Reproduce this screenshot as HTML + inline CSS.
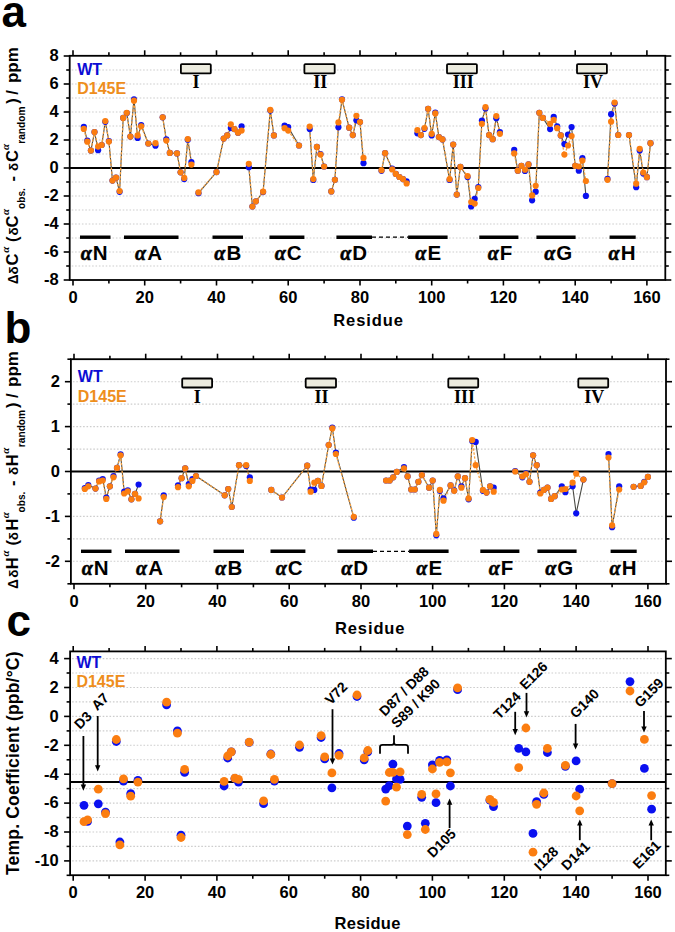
<!DOCTYPE html><html><head><meta charset="utf-8"><style>html,body{margin:0;padding:0;background:#fff;width:675px;height:932px;overflow:hidden}svg{display:block}</style></head><body>
<svg width="675" height="932" viewBox="0 0 675 932" font-family='"Liberation Sans", sans-serif'>
<rect width="675" height="932" fill="#fff"/>
<text x="1.6" y="27.0" font-size="44" font-weight="bold">a</text>
<text x="4.5" y="343.2" font-size="44" font-weight="bold">b</text>
<text x="6.5" y="635.6" font-size="44" font-weight="bold">c</text>
<line x1="71.7" y1="266.0" x2="663.3" y2="266.0" stroke="#cdcdcd" stroke-width="1.1" stroke-dasharray="1.6 1.8"/>
<line x1="71.7" y1="252.0" x2="663.3" y2="252.0" stroke="#cdcdcd" stroke-width="1.1" stroke-dasharray="1.6 1.8"/>
<line x1="71.7" y1="238.0" x2="663.3" y2="238.0" stroke="#cdcdcd" stroke-width="1.1" stroke-dasharray="1.6 1.8"/>
<line x1="71.7" y1="224.0" x2="663.3" y2="224.0" stroke="#cdcdcd" stroke-width="1.1" stroke-dasharray="1.6 1.8"/>
<line x1="71.7" y1="210.0" x2="663.3" y2="210.0" stroke="#cdcdcd" stroke-width="1.1" stroke-dasharray="1.6 1.8"/>
<line x1="71.7" y1="196.0" x2="663.3" y2="196.0" stroke="#cdcdcd" stroke-width="1.1" stroke-dasharray="1.6 1.8"/>
<line x1="71.7" y1="182.0" x2="663.3" y2="182.0" stroke="#cdcdcd" stroke-width="1.1" stroke-dasharray="1.6 1.8"/>
<line x1="71.7" y1="154.0" x2="663.3" y2="154.0" stroke="#cdcdcd" stroke-width="1.1" stroke-dasharray="1.6 1.8"/>
<line x1="71.7" y1="140.0" x2="663.3" y2="140.0" stroke="#cdcdcd" stroke-width="1.1" stroke-dasharray="1.6 1.8"/>
<line x1="71.7" y1="126.0" x2="663.3" y2="126.0" stroke="#cdcdcd" stroke-width="1.1" stroke-dasharray="1.6 1.8"/>
<line x1="71.7" y1="112.0" x2="663.3" y2="112.0" stroke="#cdcdcd" stroke-width="1.1" stroke-dasharray="1.6 1.8"/>
<line x1="71.7" y1="98.0" x2="663.3" y2="98.0" stroke="#cdcdcd" stroke-width="1.1" stroke-dasharray="1.6 1.8"/>
<line x1="71.7" y1="84.0" x2="663.3" y2="84.0" stroke="#cdcdcd" stroke-width="1.1" stroke-dasharray="1.6 1.8"/>
<line x1="71.7" y1="70.0" x2="663.3" y2="70.0" stroke="#cdcdcd" stroke-width="1.1" stroke-dasharray="1.6 1.8"/>
<rect x="69.7" y="55.8" width="595.6" height="224.2" fill="none" stroke="#000" stroke-width="1.8"/>
<line x1="63.7" y1="280.0" x2="69.7" y2="280.0" stroke="#000" stroke-width="1.6"/>
<line x1="665.3" y1="280.0" x2="671.3" y2="280.0" stroke="#000" stroke-width="1.6"/>
<line x1="63.7" y1="252.0" x2="69.7" y2="252.0" stroke="#000" stroke-width="1.6"/>
<line x1="665.3" y1="252.0" x2="671.3" y2="252.0" stroke="#000" stroke-width="1.6"/>
<line x1="63.7" y1="224.0" x2="69.7" y2="224.0" stroke="#000" stroke-width="1.6"/>
<line x1="665.3" y1="224.0" x2="671.3" y2="224.0" stroke="#000" stroke-width="1.6"/>
<line x1="63.7" y1="196.0" x2="69.7" y2="196.0" stroke="#000" stroke-width="1.6"/>
<line x1="665.3" y1="196.0" x2="671.3" y2="196.0" stroke="#000" stroke-width="1.6"/>
<line x1="63.7" y1="168.0" x2="69.7" y2="168.0" stroke="#000" stroke-width="1.6"/>
<line x1="665.3" y1="168.0" x2="671.3" y2="168.0" stroke="#000" stroke-width="1.6"/>
<line x1="63.7" y1="140.0" x2="69.7" y2="140.0" stroke="#000" stroke-width="1.6"/>
<line x1="665.3" y1="140.0" x2="671.3" y2="140.0" stroke="#000" stroke-width="1.6"/>
<line x1="63.7" y1="112.0" x2="69.7" y2="112.0" stroke="#000" stroke-width="1.6"/>
<line x1="665.3" y1="112.0" x2="671.3" y2="112.0" stroke="#000" stroke-width="1.6"/>
<line x1="63.7" y1="84.0" x2="69.7" y2="84.0" stroke="#000" stroke-width="1.6"/>
<line x1="665.3" y1="84.0" x2="671.3" y2="84.0" stroke="#000" stroke-width="1.6"/>
<line x1="63.7" y1="56.0" x2="69.7" y2="56.0" stroke="#000" stroke-width="1.6"/>
<line x1="665.3" y1="56.0" x2="671.3" y2="56.0" stroke="#000" stroke-width="1.6"/>
<line x1="66.2" y1="266.0" x2="69.7" y2="266.0" stroke="#000" stroke-width="1.6"/>
<line x1="665.3" y1="266.0" x2="668.8" y2="266.0" stroke="#000" stroke-width="1.6"/>
<line x1="66.2" y1="238.0" x2="69.7" y2="238.0" stroke="#000" stroke-width="1.6"/>
<line x1="665.3" y1="238.0" x2="668.8" y2="238.0" stroke="#000" stroke-width="1.6"/>
<line x1="66.2" y1="210.0" x2="69.7" y2="210.0" stroke="#000" stroke-width="1.6"/>
<line x1="665.3" y1="210.0" x2="668.8" y2="210.0" stroke="#000" stroke-width="1.6"/>
<line x1="66.2" y1="182.0" x2="69.7" y2="182.0" stroke="#000" stroke-width="1.6"/>
<line x1="665.3" y1="182.0" x2="668.8" y2="182.0" stroke="#000" stroke-width="1.6"/>
<line x1="66.2" y1="154.0" x2="69.7" y2="154.0" stroke="#000" stroke-width="1.6"/>
<line x1="665.3" y1="154.0" x2="668.8" y2="154.0" stroke="#000" stroke-width="1.6"/>
<line x1="66.2" y1="126.0" x2="69.7" y2="126.0" stroke="#000" stroke-width="1.6"/>
<line x1="665.3" y1="126.0" x2="668.8" y2="126.0" stroke="#000" stroke-width="1.6"/>
<line x1="66.2" y1="98.0" x2="69.7" y2="98.0" stroke="#000" stroke-width="1.6"/>
<line x1="665.3" y1="98.0" x2="668.8" y2="98.0" stroke="#000" stroke-width="1.6"/>
<line x1="66.2" y1="70.0" x2="69.7" y2="70.0" stroke="#000" stroke-width="1.6"/>
<line x1="665.3" y1="70.0" x2="668.8" y2="70.0" stroke="#000" stroke-width="1.6"/>
<line x1="73.0" y1="280.0" x2="73.0" y2="285.5" stroke="#000" stroke-width="1.6"/>
<line x1="73.0" y1="55.8" x2="73.0" y2="50.3" stroke="#000" stroke-width="1.6"/>
<line x1="108.9" y1="280.0" x2="108.9" y2="283.5" stroke="#000" stroke-width="1.6"/>
<line x1="108.9" y1="55.8" x2="108.9" y2="52.3" stroke="#000" stroke-width="1.6"/>
<line x1="144.7" y1="280.0" x2="144.7" y2="285.5" stroke="#000" stroke-width="1.6"/>
<line x1="144.7" y1="55.8" x2="144.7" y2="50.3" stroke="#000" stroke-width="1.6"/>
<line x1="180.6" y1="280.0" x2="180.6" y2="283.5" stroke="#000" stroke-width="1.6"/>
<line x1="180.6" y1="55.8" x2="180.6" y2="52.3" stroke="#000" stroke-width="1.6"/>
<line x1="216.5" y1="280.0" x2="216.5" y2="285.5" stroke="#000" stroke-width="1.6"/>
<line x1="216.5" y1="55.8" x2="216.5" y2="50.3" stroke="#000" stroke-width="1.6"/>
<line x1="252.4" y1="280.0" x2="252.4" y2="283.5" stroke="#000" stroke-width="1.6"/>
<line x1="252.4" y1="55.8" x2="252.4" y2="52.3" stroke="#000" stroke-width="1.6"/>
<line x1="288.2" y1="280.0" x2="288.2" y2="285.5" stroke="#000" stroke-width="1.6"/>
<line x1="288.2" y1="55.8" x2="288.2" y2="50.3" stroke="#000" stroke-width="1.6"/>
<line x1="324.1" y1="280.0" x2="324.1" y2="283.5" stroke="#000" stroke-width="1.6"/>
<line x1="324.1" y1="55.8" x2="324.1" y2="52.3" stroke="#000" stroke-width="1.6"/>
<line x1="360.0" y1="280.0" x2="360.0" y2="285.5" stroke="#000" stroke-width="1.6"/>
<line x1="360.0" y1="55.8" x2="360.0" y2="50.3" stroke="#000" stroke-width="1.6"/>
<line x1="395.8" y1="280.0" x2="395.8" y2="283.5" stroke="#000" stroke-width="1.6"/>
<line x1="395.8" y1="55.8" x2="395.8" y2="52.3" stroke="#000" stroke-width="1.6"/>
<line x1="431.7" y1="280.0" x2="431.7" y2="285.5" stroke="#000" stroke-width="1.6"/>
<line x1="431.7" y1="55.8" x2="431.7" y2="50.3" stroke="#000" stroke-width="1.6"/>
<line x1="467.6" y1="280.0" x2="467.6" y2="283.5" stroke="#000" stroke-width="1.6"/>
<line x1="467.6" y1="55.8" x2="467.6" y2="52.3" stroke="#000" stroke-width="1.6"/>
<line x1="503.4" y1="280.0" x2="503.4" y2="285.5" stroke="#000" stroke-width="1.6"/>
<line x1="503.4" y1="55.8" x2="503.4" y2="50.3" stroke="#000" stroke-width="1.6"/>
<line x1="539.3" y1="280.0" x2="539.3" y2="283.5" stroke="#000" stroke-width="1.6"/>
<line x1="539.3" y1="55.8" x2="539.3" y2="52.3" stroke="#000" stroke-width="1.6"/>
<line x1="575.2" y1="280.0" x2="575.2" y2="285.5" stroke="#000" stroke-width="1.6"/>
<line x1="575.2" y1="55.8" x2="575.2" y2="50.3" stroke="#000" stroke-width="1.6"/>
<line x1="611.1" y1="280.0" x2="611.1" y2="283.5" stroke="#000" stroke-width="1.6"/>
<line x1="611.1" y1="55.8" x2="611.1" y2="52.3" stroke="#000" stroke-width="1.6"/>
<line x1="646.9" y1="280.0" x2="646.9" y2="285.5" stroke="#000" stroke-width="1.6"/>
<line x1="646.9" y1="55.8" x2="646.9" y2="50.3" stroke="#000" stroke-width="1.6"/>
<text x="58.6" y="285.3" text-anchor="end" font-size="16.5" font-weight="bold">-8</text>
<text x="58.6" y="257.3" text-anchor="end" font-size="16.5" font-weight="bold">-6</text>
<text x="58.6" y="229.3" text-anchor="end" font-size="16.5" font-weight="bold">-4</text>
<text x="58.6" y="201.3" text-anchor="end" font-size="16.5" font-weight="bold">-2</text>
<text x="58.6" y="173.3" text-anchor="end" font-size="16.5" font-weight="bold">0</text>
<text x="58.6" y="145.3" text-anchor="end" font-size="16.5" font-weight="bold">2</text>
<text x="58.6" y="117.3" text-anchor="end" font-size="16.5" font-weight="bold">4</text>
<text x="58.6" y="89.3" text-anchor="end" font-size="16.5" font-weight="bold">6</text>
<text x="58.6" y="61.3" text-anchor="end" font-size="16.5" font-weight="bold">8</text>
<text x="73.0" y="303.4" text-anchor="middle" font-size="16.5" font-weight="bold">0</text>
<text x="144.7" y="303.4" text-anchor="middle" font-size="16.5" font-weight="bold">20</text>
<text x="216.5" y="303.4" text-anchor="middle" font-size="16.5" font-weight="bold">40</text>
<text x="288.2" y="303.4" text-anchor="middle" font-size="16.5" font-weight="bold">60</text>
<text x="360.0" y="303.4" text-anchor="middle" font-size="16.5" font-weight="bold">80</text>
<text x="431.7" y="303.4" text-anchor="middle" font-size="16.5" font-weight="bold">100</text>
<text x="503.4" y="303.4" text-anchor="middle" font-size="16.5" font-weight="bold">120</text>
<text x="575.2" y="303.4" text-anchor="middle" font-size="16.5" font-weight="bold">140</text>
<text x="646.9" y="303.4" text-anchor="middle" font-size="16.5" font-weight="bold">160</text>
<line x1="72.9" y1="561.3" x2="664.0" y2="561.3" stroke="#cdcdcd" stroke-width="1.1" stroke-dasharray="1.6 1.8"/>
<line x1="72.9" y1="538.9" x2="664.0" y2="538.9" stroke="#cdcdcd" stroke-width="1.1" stroke-dasharray="1.6 1.8"/>
<line x1="72.9" y1="516.4" x2="664.0" y2="516.4" stroke="#cdcdcd" stroke-width="1.1" stroke-dasharray="1.6 1.8"/>
<line x1="72.9" y1="493.9" x2="664.0" y2="493.9" stroke="#cdcdcd" stroke-width="1.1" stroke-dasharray="1.6 1.8"/>
<line x1="72.9" y1="449.1" x2="664.0" y2="449.1" stroke="#cdcdcd" stroke-width="1.1" stroke-dasharray="1.6 1.8"/>
<line x1="72.9" y1="426.6" x2="664.0" y2="426.6" stroke="#cdcdcd" stroke-width="1.1" stroke-dasharray="1.6 1.8"/>
<line x1="72.9" y1="404.1" x2="664.0" y2="404.1" stroke="#cdcdcd" stroke-width="1.1" stroke-dasharray="1.6 1.8"/>
<line x1="72.9" y1="381.7" x2="664.0" y2="381.7" stroke="#cdcdcd" stroke-width="1.1" stroke-dasharray="1.6 1.8"/>
<rect x="70.9" y="359.2" width="595.1" height="224.6" fill="none" stroke="#000" stroke-width="1.8"/>
<line x1="64.9" y1="561.3" x2="70.9" y2="561.3" stroke="#000" stroke-width="1.6"/>
<line x1="666.0" y1="561.3" x2="672.0" y2="561.3" stroke="#000" stroke-width="1.6"/>
<line x1="64.9" y1="516.4" x2="70.9" y2="516.4" stroke="#000" stroke-width="1.6"/>
<line x1="666.0" y1="516.4" x2="672.0" y2="516.4" stroke="#000" stroke-width="1.6"/>
<line x1="64.9" y1="471.5" x2="70.9" y2="471.5" stroke="#000" stroke-width="1.6"/>
<line x1="666.0" y1="471.5" x2="672.0" y2="471.5" stroke="#000" stroke-width="1.6"/>
<line x1="64.9" y1="426.6" x2="70.9" y2="426.6" stroke="#000" stroke-width="1.6"/>
<line x1="666.0" y1="426.6" x2="672.0" y2="426.6" stroke="#000" stroke-width="1.6"/>
<line x1="64.9" y1="381.7" x2="70.9" y2="381.7" stroke="#000" stroke-width="1.6"/>
<line x1="666.0" y1="381.7" x2="672.0" y2="381.7" stroke="#000" stroke-width="1.6"/>
<line x1="67.4" y1="583.8" x2="70.9" y2="583.8" stroke="#000" stroke-width="1.6"/>
<line x1="666.0" y1="583.8" x2="669.5" y2="583.8" stroke="#000" stroke-width="1.6"/>
<line x1="67.4" y1="538.9" x2="70.9" y2="538.9" stroke="#000" stroke-width="1.6"/>
<line x1="666.0" y1="538.9" x2="669.5" y2="538.9" stroke="#000" stroke-width="1.6"/>
<line x1="67.4" y1="493.9" x2="70.9" y2="493.9" stroke="#000" stroke-width="1.6"/>
<line x1="666.0" y1="493.9" x2="669.5" y2="493.9" stroke="#000" stroke-width="1.6"/>
<line x1="67.4" y1="449.1" x2="70.9" y2="449.1" stroke="#000" stroke-width="1.6"/>
<line x1="666.0" y1="449.1" x2="669.5" y2="449.1" stroke="#000" stroke-width="1.6"/>
<line x1="67.4" y1="404.1" x2="70.9" y2="404.1" stroke="#000" stroke-width="1.6"/>
<line x1="666.0" y1="404.1" x2="669.5" y2="404.1" stroke="#000" stroke-width="1.6"/>
<line x1="67.4" y1="359.2" x2="70.9" y2="359.2" stroke="#000" stroke-width="1.6"/>
<line x1="666.0" y1="359.2" x2="669.5" y2="359.2" stroke="#000" stroke-width="1.6"/>
<line x1="74.0" y1="583.8" x2="74.0" y2="589.3" stroke="#000" stroke-width="1.6"/>
<line x1="74.0" y1="359.2" x2="74.0" y2="353.7" stroke="#000" stroke-width="1.6"/>
<line x1="109.9" y1="583.8" x2="109.9" y2="587.3" stroke="#000" stroke-width="1.6"/>
<line x1="109.9" y1="359.2" x2="109.9" y2="355.7" stroke="#000" stroke-width="1.6"/>
<line x1="145.7" y1="583.8" x2="145.7" y2="589.3" stroke="#000" stroke-width="1.6"/>
<line x1="145.7" y1="359.2" x2="145.7" y2="353.7" stroke="#000" stroke-width="1.6"/>
<line x1="181.6" y1="583.8" x2="181.6" y2="587.3" stroke="#000" stroke-width="1.6"/>
<line x1="181.6" y1="359.2" x2="181.6" y2="355.7" stroke="#000" stroke-width="1.6"/>
<line x1="217.5" y1="583.8" x2="217.5" y2="589.3" stroke="#000" stroke-width="1.6"/>
<line x1="217.5" y1="359.2" x2="217.5" y2="353.7" stroke="#000" stroke-width="1.6"/>
<line x1="253.4" y1="583.8" x2="253.4" y2="587.3" stroke="#000" stroke-width="1.6"/>
<line x1="253.4" y1="359.2" x2="253.4" y2="355.7" stroke="#000" stroke-width="1.6"/>
<line x1="289.2" y1="583.8" x2="289.2" y2="589.3" stroke="#000" stroke-width="1.6"/>
<line x1="289.2" y1="359.2" x2="289.2" y2="353.7" stroke="#000" stroke-width="1.6"/>
<line x1="325.1" y1="583.8" x2="325.1" y2="587.3" stroke="#000" stroke-width="1.6"/>
<line x1="325.1" y1="359.2" x2="325.1" y2="355.7" stroke="#000" stroke-width="1.6"/>
<line x1="361.0" y1="583.8" x2="361.0" y2="589.3" stroke="#000" stroke-width="1.6"/>
<line x1="361.0" y1="359.2" x2="361.0" y2="353.7" stroke="#000" stroke-width="1.6"/>
<line x1="396.8" y1="583.8" x2="396.8" y2="587.3" stroke="#000" stroke-width="1.6"/>
<line x1="396.8" y1="359.2" x2="396.8" y2="355.7" stroke="#000" stroke-width="1.6"/>
<line x1="432.7" y1="583.8" x2="432.7" y2="589.3" stroke="#000" stroke-width="1.6"/>
<line x1="432.7" y1="359.2" x2="432.7" y2="353.7" stroke="#000" stroke-width="1.6"/>
<line x1="468.6" y1="583.8" x2="468.6" y2="587.3" stroke="#000" stroke-width="1.6"/>
<line x1="468.6" y1="359.2" x2="468.6" y2="355.7" stroke="#000" stroke-width="1.6"/>
<line x1="504.4" y1="583.8" x2="504.4" y2="589.3" stroke="#000" stroke-width="1.6"/>
<line x1="504.4" y1="359.2" x2="504.4" y2="353.7" stroke="#000" stroke-width="1.6"/>
<line x1="540.3" y1="583.8" x2="540.3" y2="587.3" stroke="#000" stroke-width="1.6"/>
<line x1="540.3" y1="359.2" x2="540.3" y2="355.7" stroke="#000" stroke-width="1.6"/>
<line x1="576.2" y1="583.8" x2="576.2" y2="589.3" stroke="#000" stroke-width="1.6"/>
<line x1="576.2" y1="359.2" x2="576.2" y2="353.7" stroke="#000" stroke-width="1.6"/>
<line x1="612.1" y1="583.8" x2="612.1" y2="587.3" stroke="#000" stroke-width="1.6"/>
<line x1="612.1" y1="359.2" x2="612.1" y2="355.7" stroke="#000" stroke-width="1.6"/>
<line x1="647.9" y1="583.8" x2="647.9" y2="589.3" stroke="#000" stroke-width="1.6"/>
<line x1="647.9" y1="359.2" x2="647.9" y2="353.7" stroke="#000" stroke-width="1.6"/>
<text x="60.0" y="566.6" text-anchor="end" font-size="16.5" font-weight="bold">-2</text>
<text x="60.0" y="521.7" text-anchor="end" font-size="16.5" font-weight="bold">-1</text>
<text x="60.0" y="476.8" text-anchor="end" font-size="16.5" font-weight="bold">0</text>
<text x="60.0" y="431.9" text-anchor="end" font-size="16.5" font-weight="bold">1</text>
<text x="60.0" y="387.0" text-anchor="end" font-size="16.5" font-weight="bold">2</text>
<text x="74.0" y="607.4" text-anchor="middle" font-size="16.5" font-weight="bold">0</text>
<text x="145.7" y="607.4" text-anchor="middle" font-size="16.5" font-weight="bold">20</text>
<text x="217.5" y="607.4" text-anchor="middle" font-size="16.5" font-weight="bold">40</text>
<text x="289.2" y="607.4" text-anchor="middle" font-size="16.5" font-weight="bold">60</text>
<text x="361.0" y="607.4" text-anchor="middle" font-size="16.5" font-weight="bold">80</text>
<text x="432.7" y="607.4" text-anchor="middle" font-size="16.5" font-weight="bold">100</text>
<text x="504.4" y="607.4" text-anchor="middle" font-size="16.5" font-weight="bold">120</text>
<text x="576.2" y="607.4" text-anchor="middle" font-size="16.5" font-weight="bold">140</text>
<text x="647.9" y="607.4" text-anchor="middle" font-size="16.5" font-weight="bold">160</text>
<line x1="72.1" y1="860.9" x2="663.8" y2="860.9" stroke="#cdcdcd" stroke-width="1.1" stroke-dasharray="1.6 1.8"/>
<line x1="72.1" y1="846.4" x2="663.8" y2="846.4" stroke="#cdcdcd" stroke-width="1.1" stroke-dasharray="1.6 1.8"/>
<line x1="72.1" y1="832.0" x2="663.8" y2="832.0" stroke="#cdcdcd" stroke-width="1.1" stroke-dasharray="1.6 1.8"/>
<line x1="72.1" y1="817.5" x2="663.8" y2="817.5" stroke="#cdcdcd" stroke-width="1.1" stroke-dasharray="1.6 1.8"/>
<line x1="72.1" y1="803.1" x2="663.8" y2="803.1" stroke="#cdcdcd" stroke-width="1.1" stroke-dasharray="1.6 1.8"/>
<line x1="72.1" y1="788.6" x2="663.8" y2="788.6" stroke="#cdcdcd" stroke-width="1.1" stroke-dasharray="1.6 1.8"/>
<line x1="72.1" y1="774.2" x2="663.8" y2="774.2" stroke="#cdcdcd" stroke-width="1.1" stroke-dasharray="1.6 1.8"/>
<line x1="72.1" y1="759.8" x2="663.8" y2="759.8" stroke="#cdcdcd" stroke-width="1.1" stroke-dasharray="1.6 1.8"/>
<line x1="72.1" y1="745.3" x2="663.8" y2="745.3" stroke="#cdcdcd" stroke-width="1.1" stroke-dasharray="1.6 1.8"/>
<line x1="72.1" y1="730.9" x2="663.8" y2="730.9" stroke="#cdcdcd" stroke-width="1.1" stroke-dasharray="1.6 1.8"/>
<line x1="72.1" y1="716.4" x2="663.8" y2="716.4" stroke="#cdcdcd" stroke-width="1.1" stroke-dasharray="1.6 1.8"/>
<line x1="72.1" y1="701.9" x2="663.8" y2="701.9" stroke="#cdcdcd" stroke-width="1.1" stroke-dasharray="1.6 1.8"/>
<line x1="72.1" y1="687.5" x2="663.8" y2="687.5" stroke="#cdcdcd" stroke-width="1.1" stroke-dasharray="1.6 1.8"/>
<line x1="72.1" y1="673.0" x2="663.8" y2="673.0" stroke="#cdcdcd" stroke-width="1.1" stroke-dasharray="1.6 1.8"/>
<line x1="72.1" y1="658.6" x2="663.8" y2="658.6" stroke="#cdcdcd" stroke-width="1.1" stroke-dasharray="1.6 1.8"/>
<rect x="70.1" y="651.4" width="595.7" height="223.8" fill="none" stroke="#000" stroke-width="1.8"/>
<line x1="64.1" y1="860.9" x2="70.1" y2="860.9" stroke="#000" stroke-width="1.6"/>
<line x1="665.8" y1="860.9" x2="671.8" y2="860.9" stroke="#000" stroke-width="1.6"/>
<line x1="64.1" y1="832.0" x2="70.1" y2="832.0" stroke="#000" stroke-width="1.6"/>
<line x1="665.8" y1="832.0" x2="671.8" y2="832.0" stroke="#000" stroke-width="1.6"/>
<line x1="64.1" y1="803.1" x2="70.1" y2="803.1" stroke="#000" stroke-width="1.6"/>
<line x1="665.8" y1="803.1" x2="671.8" y2="803.1" stroke="#000" stroke-width="1.6"/>
<line x1="64.1" y1="774.2" x2="70.1" y2="774.2" stroke="#000" stroke-width="1.6"/>
<line x1="665.8" y1="774.2" x2="671.8" y2="774.2" stroke="#000" stroke-width="1.6"/>
<line x1="64.1" y1="745.3" x2="70.1" y2="745.3" stroke="#000" stroke-width="1.6"/>
<line x1="665.8" y1="745.3" x2="671.8" y2="745.3" stroke="#000" stroke-width="1.6"/>
<line x1="64.1" y1="716.4" x2="70.1" y2="716.4" stroke="#000" stroke-width="1.6"/>
<line x1="665.8" y1="716.4" x2="671.8" y2="716.4" stroke="#000" stroke-width="1.6"/>
<line x1="64.1" y1="687.5" x2="70.1" y2="687.5" stroke="#000" stroke-width="1.6"/>
<line x1="665.8" y1="687.5" x2="671.8" y2="687.5" stroke="#000" stroke-width="1.6"/>
<line x1="64.1" y1="658.6" x2="70.1" y2="658.6" stroke="#000" stroke-width="1.6"/>
<line x1="665.8" y1="658.6" x2="671.8" y2="658.6" stroke="#000" stroke-width="1.6"/>
<line x1="66.6" y1="875.3" x2="70.1" y2="875.3" stroke="#000" stroke-width="1.6"/>
<line x1="665.8" y1="875.3" x2="669.3" y2="875.3" stroke="#000" stroke-width="1.6"/>
<line x1="66.6" y1="846.4" x2="70.1" y2="846.4" stroke="#000" stroke-width="1.6"/>
<line x1="665.8" y1="846.4" x2="669.3" y2="846.4" stroke="#000" stroke-width="1.6"/>
<line x1="66.6" y1="817.5" x2="70.1" y2="817.5" stroke="#000" stroke-width="1.6"/>
<line x1="665.8" y1="817.5" x2="669.3" y2="817.5" stroke="#000" stroke-width="1.6"/>
<line x1="66.6" y1="788.6" x2="70.1" y2="788.6" stroke="#000" stroke-width="1.6"/>
<line x1="665.8" y1="788.6" x2="669.3" y2="788.6" stroke="#000" stroke-width="1.6"/>
<line x1="66.6" y1="759.8" x2="70.1" y2="759.8" stroke="#000" stroke-width="1.6"/>
<line x1="665.8" y1="759.8" x2="669.3" y2="759.8" stroke="#000" stroke-width="1.6"/>
<line x1="66.6" y1="730.9" x2="70.1" y2="730.9" stroke="#000" stroke-width="1.6"/>
<line x1="665.8" y1="730.9" x2="669.3" y2="730.9" stroke="#000" stroke-width="1.6"/>
<line x1="66.6" y1="701.9" x2="70.1" y2="701.9" stroke="#000" stroke-width="1.6"/>
<line x1="665.8" y1="701.9" x2="669.3" y2="701.9" stroke="#000" stroke-width="1.6"/>
<line x1="66.6" y1="673.0" x2="70.1" y2="673.0" stroke="#000" stroke-width="1.6"/>
<line x1="665.8" y1="673.0" x2="669.3" y2="673.0" stroke="#000" stroke-width="1.6"/>
<line x1="73.2" y1="875.2" x2="73.2" y2="880.7" stroke="#000" stroke-width="1.6"/>
<line x1="73.2" y1="651.4" x2="73.2" y2="645.9" stroke="#000" stroke-width="1.6"/>
<line x1="109.1" y1="875.2" x2="109.1" y2="878.7" stroke="#000" stroke-width="1.6"/>
<line x1="109.1" y1="651.4" x2="109.1" y2="647.9" stroke="#000" stroke-width="1.6"/>
<line x1="145.1" y1="875.2" x2="145.1" y2="880.7" stroke="#000" stroke-width="1.6"/>
<line x1="145.1" y1="651.4" x2="145.1" y2="645.9" stroke="#000" stroke-width="1.6"/>
<line x1="181.0" y1="875.2" x2="181.0" y2="878.7" stroke="#000" stroke-width="1.6"/>
<line x1="181.0" y1="651.4" x2="181.0" y2="647.9" stroke="#000" stroke-width="1.6"/>
<line x1="216.9" y1="875.2" x2="216.9" y2="880.7" stroke="#000" stroke-width="1.6"/>
<line x1="216.9" y1="651.4" x2="216.9" y2="645.9" stroke="#000" stroke-width="1.6"/>
<line x1="252.8" y1="875.2" x2="252.8" y2="878.7" stroke="#000" stroke-width="1.6"/>
<line x1="252.8" y1="651.4" x2="252.8" y2="647.9" stroke="#000" stroke-width="1.6"/>
<line x1="288.8" y1="875.2" x2="288.8" y2="880.7" stroke="#000" stroke-width="1.6"/>
<line x1="288.8" y1="651.4" x2="288.8" y2="645.9" stroke="#000" stroke-width="1.6"/>
<line x1="324.7" y1="875.2" x2="324.7" y2="878.7" stroke="#000" stroke-width="1.6"/>
<line x1="324.7" y1="651.4" x2="324.7" y2="647.9" stroke="#000" stroke-width="1.6"/>
<line x1="360.6" y1="875.2" x2="360.6" y2="880.7" stroke="#000" stroke-width="1.6"/>
<line x1="360.6" y1="651.4" x2="360.6" y2="645.9" stroke="#000" stroke-width="1.6"/>
<line x1="396.5" y1="875.2" x2="396.5" y2="878.7" stroke="#000" stroke-width="1.6"/>
<line x1="396.5" y1="651.4" x2="396.5" y2="647.9" stroke="#000" stroke-width="1.6"/>
<line x1="432.4" y1="875.2" x2="432.4" y2="880.7" stroke="#000" stroke-width="1.6"/>
<line x1="432.4" y1="651.4" x2="432.4" y2="645.9" stroke="#000" stroke-width="1.6"/>
<line x1="468.4" y1="875.2" x2="468.4" y2="878.7" stroke="#000" stroke-width="1.6"/>
<line x1="468.4" y1="651.4" x2="468.4" y2="647.9" stroke="#000" stroke-width="1.6"/>
<line x1="504.3" y1="875.2" x2="504.3" y2="880.7" stroke="#000" stroke-width="1.6"/>
<line x1="504.3" y1="651.4" x2="504.3" y2="645.9" stroke="#000" stroke-width="1.6"/>
<line x1="540.2" y1="875.2" x2="540.2" y2="878.7" stroke="#000" stroke-width="1.6"/>
<line x1="540.2" y1="651.4" x2="540.2" y2="647.9" stroke="#000" stroke-width="1.6"/>
<line x1="576.1" y1="875.2" x2="576.1" y2="880.7" stroke="#000" stroke-width="1.6"/>
<line x1="576.1" y1="651.4" x2="576.1" y2="645.9" stroke="#000" stroke-width="1.6"/>
<line x1="612.1" y1="875.2" x2="612.1" y2="878.7" stroke="#000" stroke-width="1.6"/>
<line x1="612.1" y1="651.4" x2="612.1" y2="647.9" stroke="#000" stroke-width="1.6"/>
<line x1="648.0" y1="875.2" x2="648.0" y2="880.7" stroke="#000" stroke-width="1.6"/>
<line x1="648.0" y1="651.4" x2="648.0" y2="645.9" stroke="#000" stroke-width="1.6"/>
<text x="58.6" y="866.2" text-anchor="end" font-size="16.5" font-weight="bold">-10</text>
<text x="58.6" y="837.3" text-anchor="end" font-size="16.5" font-weight="bold">-8</text>
<text x="58.6" y="808.4" text-anchor="end" font-size="16.5" font-weight="bold">-6</text>
<text x="58.6" y="779.5" text-anchor="end" font-size="16.5" font-weight="bold">-4</text>
<text x="58.6" y="750.6" text-anchor="end" font-size="16.5" font-weight="bold">-2</text>
<text x="58.6" y="721.7" text-anchor="end" font-size="16.5" font-weight="bold">0</text>
<text x="58.6" y="692.8" text-anchor="end" font-size="16.5" font-weight="bold">2</text>
<text x="58.6" y="663.9" text-anchor="end" font-size="16.5" font-weight="bold">4</text>
<text x="73.2" y="898.4" text-anchor="middle" font-size="16.5" font-weight="bold">0</text>
<text x="145.1" y="898.4" text-anchor="middle" font-size="16.5" font-weight="bold">20</text>
<text x="216.9" y="898.4" text-anchor="middle" font-size="16.5" font-weight="bold">40</text>
<text x="288.8" y="898.4" text-anchor="middle" font-size="16.5" font-weight="bold">60</text>
<text x="360.6" y="898.4" text-anchor="middle" font-size="16.5" font-weight="bold">80</text>
<text x="432.4" y="898.4" text-anchor="middle" font-size="16.5" font-weight="bold">100</text>
<text x="504.3" y="898.4" text-anchor="middle" font-size="16.5" font-weight="bold">120</text>
<text x="576.1" y="898.4" text-anchor="middle" font-size="16.5" font-weight="bold">140</text>
<text x="648.0" y="898.4" text-anchor="middle" font-size="16.5" font-weight="bold">160</text>
<line x1="69.7" y1="168.0" x2="665.3" y2="168.0" stroke="#000" stroke-width="2"/>
<line x1="70.9" y1="471.5" x2="666.0" y2="471.5" stroke="#000" stroke-width="2"/>
<line x1="70.1" y1="782.1" x2="665.8" y2="782.1" stroke="#000" stroke-width="2"/>
<line x1="80.0" y1="237.2" x2="110.5" y2="237.2" stroke="#000" stroke-width="3.4"/>
<text x="94.2" y="260.2" text-anchor="middle" font-size="20.5" font-weight="bold"><tspan font-family='"Liberation Serif", serif' font-style="italic" font-size="20" stroke="#000" stroke-width="0.5">α</tspan><tspan dx="1">N</tspan></text>
<line x1="124.0" y1="237.2" x2="178.5" y2="237.2" stroke="#000" stroke-width="3.4"/>
<text x="148.5" y="260.2" text-anchor="middle" font-size="20.5" font-weight="bold"><tspan font-family='"Liberation Serif", serif' font-style="italic" font-size="20" stroke="#000" stroke-width="0.5">α</tspan><tspan dx="1">A</tspan></text>
<line x1="212.5" y1="237.2" x2="243.0" y2="237.2" stroke="#000" stroke-width="3.4"/>
<text x="227.8" y="260.2" text-anchor="middle" font-size="20.5" font-weight="bold"><tspan font-family='"Liberation Serif", serif' font-style="italic" font-size="20" stroke="#000" stroke-width="0.5">α</tspan><tspan dx="1">B</tspan></text>
<line x1="269.5" y1="237.2" x2="304.4" y2="237.2" stroke="#000" stroke-width="3.4"/>
<text x="288.2" y="260.2" text-anchor="middle" font-size="20.5" font-weight="bold"><tspan font-family='"Liberation Serif", serif' font-style="italic" font-size="20" stroke="#000" stroke-width="0.5">α</tspan><tspan dx="1">C</tspan></text>
<line x1="336.4" y1="237.2" x2="372.0" y2="237.2" stroke="#000" stroke-width="3.4"/>
<text x="353.6" y="260.2" text-anchor="middle" font-size="20.5" font-weight="bold"><tspan font-family='"Liberation Serif", serif' font-style="italic" font-size="20" stroke="#000" stroke-width="0.5">α</tspan><tspan dx="1">D</tspan></text>
<line x1="408.1" y1="237.2" x2="447.6" y2="237.2" stroke="#000" stroke-width="3.4"/>
<text x="428.2" y="260.2" text-anchor="middle" font-size="20.5" font-weight="bold"><tspan font-family='"Liberation Serif", serif' font-style="italic" font-size="20" stroke="#000" stroke-width="0.5">α</tspan><tspan dx="1">E</tspan></text>
<line x1="479.3" y1="237.2" x2="518.4" y2="237.2" stroke="#000" stroke-width="3.4"/>
<text x="500.0" y="260.2" text-anchor="middle" font-size="20.5" font-weight="bold"><tspan font-family='"Liberation Serif", serif' font-style="italic" font-size="20" stroke="#000" stroke-width="0.5">α</tspan><tspan dx="1">F</tspan></text>
<line x1="536.4" y1="237.2" x2="575.6" y2="237.2" stroke="#000" stroke-width="3.4"/>
<text x="558.2" y="260.2" text-anchor="middle" font-size="20.5" font-weight="bold"><tspan font-family='"Liberation Serif", serif' font-style="italic" font-size="20" stroke="#000" stroke-width="0.5">α</tspan><tspan dx="1">G</tspan></text>
<line x1="609.6" y1="237.2" x2="635.7" y2="237.2" stroke="#000" stroke-width="3.4"/>
<text x="622.0" y="260.2" text-anchor="middle" font-size="20.5" font-weight="bold"><tspan font-family='"Liberation Serif", serif' font-style="italic" font-size="20" stroke="#000" stroke-width="0.5">α</tspan><tspan dx="1">H</tspan></text>
<line x1="372.0" y1="237.2" x2="408.1" y2="237.2" stroke="#000" stroke-width="1.3" stroke-dasharray="4 3"/>
<line x1="81.0" y1="551.3" x2="111.5" y2="551.3" stroke="#000" stroke-width="3.4"/>
<text x="95.2" y="574.5" text-anchor="middle" font-size="20.5" font-weight="bold"><tspan font-family='"Liberation Serif", serif' font-style="italic" font-size="20" stroke="#000" stroke-width="0.5">α</tspan><tspan dx="1">N</tspan></text>
<line x1="125.0" y1="551.3" x2="179.5" y2="551.3" stroke="#000" stroke-width="3.4"/>
<text x="149.5" y="574.5" text-anchor="middle" font-size="20.5" font-weight="bold"><tspan font-family='"Liberation Serif", serif' font-style="italic" font-size="20" stroke="#000" stroke-width="0.5">α</tspan><tspan dx="1">A</tspan></text>
<line x1="213.5" y1="551.3" x2="244.0" y2="551.3" stroke="#000" stroke-width="3.4"/>
<text x="228.8" y="574.5" text-anchor="middle" font-size="20.5" font-weight="bold"><tspan font-family='"Liberation Serif", serif' font-style="italic" font-size="20" stroke="#000" stroke-width="0.5">α</tspan><tspan dx="1">B</tspan></text>
<line x1="270.5" y1="551.3" x2="305.4" y2="551.3" stroke="#000" stroke-width="3.4"/>
<text x="289.2" y="574.5" text-anchor="middle" font-size="20.5" font-weight="bold"><tspan font-family='"Liberation Serif", serif' font-style="italic" font-size="20" stroke="#000" stroke-width="0.5">α</tspan><tspan dx="1">C</tspan></text>
<line x1="337.4" y1="551.3" x2="373.0" y2="551.3" stroke="#000" stroke-width="3.4"/>
<text x="354.6" y="574.5" text-anchor="middle" font-size="20.5" font-weight="bold"><tspan font-family='"Liberation Serif", serif' font-style="italic" font-size="20" stroke="#000" stroke-width="0.5">α</tspan><tspan dx="1">D</tspan></text>
<line x1="409.1" y1="551.3" x2="448.6" y2="551.3" stroke="#000" stroke-width="3.4"/>
<text x="429.2" y="574.5" text-anchor="middle" font-size="20.5" font-weight="bold"><tspan font-family='"Liberation Serif", serif' font-style="italic" font-size="20" stroke="#000" stroke-width="0.5">α</tspan><tspan dx="1">E</tspan></text>
<line x1="480.3" y1="551.3" x2="519.4" y2="551.3" stroke="#000" stroke-width="3.4"/>
<text x="501.0" y="574.5" text-anchor="middle" font-size="20.5" font-weight="bold"><tspan font-family='"Liberation Serif", serif' font-style="italic" font-size="20" stroke="#000" stroke-width="0.5">α</tspan><tspan dx="1">F</tspan></text>
<line x1="537.4" y1="551.3" x2="576.6" y2="551.3" stroke="#000" stroke-width="3.4"/>
<text x="559.2" y="574.5" text-anchor="middle" font-size="20.5" font-weight="bold"><tspan font-family='"Liberation Serif", serif' font-style="italic" font-size="20" stroke="#000" stroke-width="0.5">α</tspan><tspan dx="1">G</tspan></text>
<line x1="610.6" y1="551.3" x2="636.7" y2="551.3" stroke="#000" stroke-width="3.4"/>
<text x="623.0" y="574.5" text-anchor="middle" font-size="20.5" font-weight="bold"><tspan font-family='"Liberation Serif", serif' font-style="italic" font-size="20" stroke="#000" stroke-width="0.5">α</tspan><tspan dx="1">H</tspan></text>
<line x1="373.0" y1="551.3" x2="409.1" y2="551.3" stroke="#000" stroke-width="1.3" stroke-dasharray="4 3"/>
<rect x="180.9" y="64.1" width="29.9" height="9.3" rx="1" fill="#ecebdf" stroke="#000" stroke-width="1.8"/>
<text x="196.0" y="88.4" text-anchor="middle" font-size="18" font-weight="bold" font-family='"Liberation Serif", serif'>I</text>
<rect x="304.4" y="64.1" width="30.3" height="9.3" rx="1" fill="#ecebdf" stroke="#000" stroke-width="1.8"/>
<text x="320.2" y="88.4" text-anchor="middle" font-size="18" font-weight="bold" font-family='"Liberation Serif", serif'>II</text>
<rect x="447.0" y="64.1" width="29.9" height="9.3" rx="1" fill="#ecebdf" stroke="#000" stroke-width="1.8"/>
<text x="463.3" y="88.4" text-anchor="middle" font-size="18" font-weight="bold" font-family='"Liberation Serif", serif'>III</text>
<rect x="577.0" y="64.1" width="29.9" height="9.3" rx="1" fill="#ecebdf" stroke="#000" stroke-width="1.8"/>
<text x="593.0" y="88.4" text-anchor="middle" font-size="18" font-weight="bold" font-family='"Liberation Serif", serif'>IV</text>
<rect x="182.2" y="378.5" width="29.9" height="9.0" rx="1" fill="#ecebdf" stroke="#000" stroke-width="1.8"/>
<text x="197.3" y="403.1" text-anchor="middle" font-size="18" font-weight="bold" font-family='"Liberation Serif", serif'>I</text>
<rect x="305.7" y="378.5" width="30.3" height="9.0" rx="1" fill="#ecebdf" stroke="#000" stroke-width="1.8"/>
<text x="321.5" y="403.1" text-anchor="middle" font-size="18" font-weight="bold" font-family='"Liberation Serif", serif'>II</text>
<rect x="448.3" y="378.5" width="29.9" height="9.0" rx="1" fill="#ecebdf" stroke="#000" stroke-width="1.8"/>
<text x="464.6" y="403.1" text-anchor="middle" font-size="18" font-weight="bold" font-family='"Liberation Serif", serif'>III</text>
<rect x="578.3" y="378.5" width="29.9" height="9.0" rx="1" fill="#ecebdf" stroke="#000" stroke-width="1.8"/>
<text x="594.3" y="403.1" text-anchor="middle" font-size="18" font-weight="bold" font-family='"Liberation Serif", serif'>IV</text>
<polyline points="83.8,126.8 87.3,140.7 90.9,150.6 94.5,132.0 98.1,150.2 101.7,145.0 105.3,121.8 108.9,141.1 112.5,180.6 116.0,177.7 119.6,191.8 123.2,117.9 126.8,113.1 130.4,136.6 134.0,99.4 137.6,137.9 141.2,125.0 148.3,143.5 155.5,145.7" fill="none" stroke="#4a4a44" stroke-width="1.1"/>
<polyline points="162.7,117.3 166.3,139.3 169.8,152.9 177.0,153.4 180.6,172.3 184.2,179.1 187.8,139.7 191.4,162.0" fill="none" stroke="#4a4a44" stroke-width="1.1"/>
<polyline points="198.5,193.2 216.5,172.1 223.7,138.6 227.2,135.4 230.8,128.1 234.4,129.1 238.0,132.7 241.6,126.3" fill="none" stroke="#4a4a44" stroke-width="1.1"/>
<polyline points="248.8,167.2 252.4,206.5 255.9,201.3 263.1,192.1 270.3,110.6 273.9,135.4" fill="none" stroke="#4a4a44" stroke-width="1.1"/>
<polyline points="284.6,125.7 288.2,127.1 299.0,145.5" fill="none" stroke="#4a4a44" stroke-width="1.1"/>
<polyline points="309.7,129.1 313.3,179.9 316.9,146.9 320.5,154.0 324.1,166.5" fill="none" stroke="#4a4a44" stroke-width="1.1"/>
<polyline points="331.3,191.4 334.9,179.8 338.4,127.3 342.0,99.4 349.2,127.7 352.8,135.1 356.4,120.3 360.0,122.1 363.5,163.2" fill="none" stroke="#4a4a44" stroke-width="1.1"/>
<polyline points="381.5,170.8 385.1,153.2 392.2,168.7 395.8,173.9 399.4,177.0 403.0,179.1 406.6,181.3" fill="none" stroke="#4a4a44" stroke-width="1.1"/>
<polyline points="417.4,133.3 420.9,135.1 424.5,128.8 428.1,108.8 431.7,135.4 435.3,112.7 438.9,137.1 442.5,139.4 449.6,180.0 453.2,144.6 456.8,194.6 460.4,166.9 467.6,177.1 471.2,206.5 474.7,198.8 478.3,187.0 481.9,120.5 485.5,108.5 489.1,135.1 492.7,139.2 496.3,118.2 499.9,132.2" fill="none" stroke="#4a4a44" stroke-width="1.1"/>
<polyline points="514.2,149.9 517.8,170.7 521.4,165.8 525.0,170.9 528.5,164.4 532.1,200.3 535.7,191.7 539.3,112.8 542.9,117.9 550.1,129.1 553.7,116.9 557.2,126.3 560.8,135.4 564.4,144.1 568.0,134.5 571.6,127.0 575.2,165.8 578.8,170.7 582.4,158.2 585.9,195.9" fill="none" stroke="#4a4a44" stroke-width="1.1"/>
<polyline points="607.5,178.9 611.1,114.2 614.6,103.6 618.2,135.0" fill="none" stroke="#4a4a44" stroke-width="1.1"/>
<polyline points="629.0,135.0 636.2,187.2 639.7,150.5 643.3,173.6 646.9,177.2 650.5,143.2" fill="none" stroke="#4a4a44" stroke-width="1.1"/>
<polyline points="83.8,128.9 87.3,141.7 90.9,150.6 94.5,132.0 98.1,146.6 101.7,145.0 105.3,121.0 108.9,141.5 112.5,180.6 116.0,177.7 119.6,191.0 123.2,117.9 126.8,112.8 130.4,136.6 134.0,100.7 137.6,135.4 141.2,126.3 148.3,143.5 155.5,143.2" fill="none" stroke="#f5a040" stroke-width="1.3" stroke-dasharray="2.4 1.6"/>
<polyline points="162.7,117.3 166.3,140.6 169.8,152.9 177.0,153.4 180.6,172.3 184.2,177.9 187.8,139.0 191.4,164.6" fill="none" stroke="#f5a040" stroke-width="1.3" stroke-dasharray="2.4 1.6"/>
<polyline points="198.5,192.4 216.5,172.1 223.7,138.6 227.2,135.4 230.8,124.3 234.4,129.1 238.0,132.7 241.6,130.6" fill="none" stroke="#f5a040" stroke-width="1.3" stroke-dasharray="2.4 1.6"/>
<polyline points="248.8,163.8 252.4,206.5 255.9,201.3 263.1,191.7 270.3,109.9 273.9,135.4" fill="none" stroke="#f5a040" stroke-width="1.3" stroke-dasharray="2.4 1.6"/>
<polyline points="284.6,128.2 288.2,130.6 299.0,145.5" fill="none" stroke="#f5a040" stroke-width="1.3" stroke-dasharray="2.4 1.6"/>
<polyline points="309.7,126.6 313.3,179.1 316.9,146.9 320.5,154.6 324.1,166.5" fill="none" stroke="#f5a040" stroke-width="1.3" stroke-dasharray="2.4 1.6"/>
<polyline points="331.3,191.4 334.9,179.8 338.4,122.4 342.0,99.8 349.2,127.7 352.8,135.1 356.4,115.8 360.0,122.1 363.5,157.9" fill="none" stroke="#f5a040" stroke-width="1.3" stroke-dasharray="2.4 1.6"/>
<polyline points="381.5,170.2 385.1,153.2 392.2,169.4 395.8,173.9 399.4,177.0 403.0,179.1 406.6,183.4" fill="none" stroke="#f5a040" stroke-width="1.3" stroke-dasharray="2.4 1.6"/>
<polyline points="417.4,130.2 420.9,135.1 424.5,128.0 428.1,108.8 431.7,133.8 435.3,113.4 438.9,137.1 442.5,139.4 449.6,179.2 453.2,144.6 456.8,194.6 460.4,166.9 467.6,176.1 471.2,202.0 474.7,203.6 478.3,188.0 481.9,123.8 485.5,107.2 489.1,135.1 492.7,139.2 496.3,116.1 499.9,133.8" fill="none" stroke="#f5a040" stroke-width="1.3" stroke-dasharray="2.4 1.6"/>
<polyline points="514.2,153.4 517.8,170.7 521.4,165.8 525.0,169.7 528.5,164.4 532.1,195.4 535.7,185.8 539.3,112.8 542.9,117.9 550.1,123.8 553.7,119.8 557.2,128.2 560.8,135.4 564.4,154.6 568.0,145.5 571.6,136.1 575.2,165.8 578.8,166.5 582.4,160.6 585.9,181.0" fill="none" stroke="#f5a040" stroke-width="1.3" stroke-dasharray="2.4 1.6"/>
<polyline points="607.5,179.8 611.1,121.7 614.6,102.5 618.2,135.0" fill="none" stroke="#f5a040" stroke-width="1.3" stroke-dasharray="2.4 1.6"/>
<polyline points="629.0,135.0 636.2,183.7 639.7,148.8 643.3,172.5 646.9,177.2 650.5,143.2" fill="none" stroke="#f5a040" stroke-width="1.3" stroke-dasharray="2.4 1.6"/>
<circle cx="83.8" cy="126.8" r="3.1" fill="#0a10f0"/>
<circle cx="87.3" cy="140.7" r="3.1" fill="#0a10f0"/>
<circle cx="90.9" cy="150.6" r="3.1" fill="#0a10f0"/>
<circle cx="94.5" cy="132.0" r="3.1" fill="#0a10f0"/>
<circle cx="98.1" cy="150.2" r="3.1" fill="#0a10f0"/>
<circle cx="101.7" cy="145.0" r="3.1" fill="#0a10f0"/>
<circle cx="105.3" cy="121.8" r="3.1" fill="#0a10f0"/>
<circle cx="108.9" cy="141.1" r="3.1" fill="#0a10f0"/>
<circle cx="112.5" cy="180.6" r="3.1" fill="#0a10f0"/>
<circle cx="116.0" cy="177.7" r="3.1" fill="#0a10f0"/>
<circle cx="119.6" cy="191.8" r="3.1" fill="#0a10f0"/>
<circle cx="123.2" cy="117.9" r="3.1" fill="#0a10f0"/>
<circle cx="126.8" cy="113.1" r="3.1" fill="#0a10f0"/>
<circle cx="130.4" cy="136.6" r="3.1" fill="#0a10f0"/>
<circle cx="134.0" cy="99.4" r="3.1" fill="#0a10f0"/>
<circle cx="137.6" cy="137.9" r="3.1" fill="#0a10f0"/>
<circle cx="141.2" cy="125.0" r="3.1" fill="#0a10f0"/>
<circle cx="148.3" cy="143.5" r="3.1" fill="#0a10f0"/>
<circle cx="155.5" cy="145.7" r="3.1" fill="#0a10f0"/>
<circle cx="162.7" cy="117.3" r="3.1" fill="#0a10f0"/>
<circle cx="166.3" cy="139.3" r="3.1" fill="#0a10f0"/>
<circle cx="169.8" cy="152.9" r="3.1" fill="#0a10f0"/>
<circle cx="177.0" cy="153.4" r="3.1" fill="#0a10f0"/>
<circle cx="180.6" cy="172.3" r="3.1" fill="#0a10f0"/>
<circle cx="184.2" cy="179.1" r="3.1" fill="#0a10f0"/>
<circle cx="187.8" cy="139.7" r="3.1" fill="#0a10f0"/>
<circle cx="191.4" cy="162.0" r="3.1" fill="#0a10f0"/>
<circle cx="198.5" cy="193.2" r="3.1" fill="#0a10f0"/>
<circle cx="216.5" cy="172.1" r="3.1" fill="#0a10f0"/>
<circle cx="223.7" cy="138.6" r="3.1" fill="#0a10f0"/>
<circle cx="227.2" cy="135.4" r="3.1" fill="#0a10f0"/>
<circle cx="230.8" cy="128.1" r="3.1" fill="#0a10f0"/>
<circle cx="234.4" cy="129.1" r="3.1" fill="#0a10f0"/>
<circle cx="238.0" cy="132.7" r="3.1" fill="#0a10f0"/>
<circle cx="241.6" cy="126.3" r="3.1" fill="#0a10f0"/>
<circle cx="248.8" cy="167.2" r="3.1" fill="#0a10f0"/>
<circle cx="252.4" cy="206.5" r="3.1" fill="#0a10f0"/>
<circle cx="255.9" cy="201.3" r="3.1" fill="#0a10f0"/>
<circle cx="263.1" cy="192.1" r="3.1" fill="#0a10f0"/>
<circle cx="270.3" cy="110.6" r="3.1" fill="#0a10f0"/>
<circle cx="273.9" cy="135.4" r="3.1" fill="#0a10f0"/>
<circle cx="284.6" cy="125.7" r="3.1" fill="#0a10f0"/>
<circle cx="288.2" cy="127.1" r="3.1" fill="#0a10f0"/>
<circle cx="299.0" cy="145.5" r="3.1" fill="#0a10f0"/>
<circle cx="309.7" cy="129.1" r="3.1" fill="#0a10f0"/>
<circle cx="313.3" cy="179.9" r="3.1" fill="#0a10f0"/>
<circle cx="316.9" cy="146.9" r="3.1" fill="#0a10f0"/>
<circle cx="320.5" cy="154.0" r="3.1" fill="#0a10f0"/>
<circle cx="324.1" cy="166.5" r="3.1" fill="#0a10f0"/>
<circle cx="331.3" cy="191.4" r="3.1" fill="#0a10f0"/>
<circle cx="334.9" cy="179.8" r="3.1" fill="#0a10f0"/>
<circle cx="338.4" cy="127.3" r="3.1" fill="#0a10f0"/>
<circle cx="342.0" cy="99.4" r="3.1" fill="#0a10f0"/>
<circle cx="349.2" cy="127.7" r="3.1" fill="#0a10f0"/>
<circle cx="352.8" cy="135.1" r="3.1" fill="#0a10f0"/>
<circle cx="356.4" cy="120.3" r="3.1" fill="#0a10f0"/>
<circle cx="360.0" cy="122.1" r="3.1" fill="#0a10f0"/>
<circle cx="363.5" cy="163.2" r="3.1" fill="#0a10f0"/>
<circle cx="381.5" cy="170.8" r="3.1" fill="#0a10f0"/>
<circle cx="385.1" cy="153.2" r="3.1" fill="#0a10f0"/>
<circle cx="392.2" cy="168.7" r="3.1" fill="#0a10f0"/>
<circle cx="395.8" cy="173.9" r="3.1" fill="#0a10f0"/>
<circle cx="399.4" cy="177.0" r="3.1" fill="#0a10f0"/>
<circle cx="403.0" cy="179.1" r="3.1" fill="#0a10f0"/>
<circle cx="406.6" cy="181.3" r="3.1" fill="#0a10f0"/>
<circle cx="417.4" cy="133.3" r="3.1" fill="#0a10f0"/>
<circle cx="420.9" cy="135.1" r="3.1" fill="#0a10f0"/>
<circle cx="424.5" cy="128.8" r="3.1" fill="#0a10f0"/>
<circle cx="428.1" cy="108.8" r="3.1" fill="#0a10f0"/>
<circle cx="431.7" cy="135.4" r="3.1" fill="#0a10f0"/>
<circle cx="435.3" cy="112.7" r="3.1" fill="#0a10f0"/>
<circle cx="438.9" cy="137.1" r="3.1" fill="#0a10f0"/>
<circle cx="442.5" cy="139.4" r="3.1" fill="#0a10f0"/>
<circle cx="449.6" cy="180.0" r="3.1" fill="#0a10f0"/>
<circle cx="453.2" cy="144.6" r="3.1" fill="#0a10f0"/>
<circle cx="456.8" cy="194.6" r="3.1" fill="#0a10f0"/>
<circle cx="460.4" cy="166.9" r="3.1" fill="#0a10f0"/>
<circle cx="467.6" cy="177.1" r="3.1" fill="#0a10f0"/>
<circle cx="471.2" cy="206.5" r="3.1" fill="#0a10f0"/>
<circle cx="474.7" cy="198.8" r="3.1" fill="#0a10f0"/>
<circle cx="478.3" cy="187.0" r="3.1" fill="#0a10f0"/>
<circle cx="481.9" cy="120.5" r="3.1" fill="#0a10f0"/>
<circle cx="485.5" cy="108.5" r="3.1" fill="#0a10f0"/>
<circle cx="489.1" cy="135.1" r="3.1" fill="#0a10f0"/>
<circle cx="492.7" cy="139.2" r="3.1" fill="#0a10f0"/>
<circle cx="496.3" cy="118.2" r="3.1" fill="#0a10f0"/>
<circle cx="499.9" cy="132.2" r="3.1" fill="#0a10f0"/>
<circle cx="514.2" cy="149.9" r="3.1" fill="#0a10f0"/>
<circle cx="517.8" cy="170.7" r="3.1" fill="#0a10f0"/>
<circle cx="521.4" cy="165.8" r="3.1" fill="#0a10f0"/>
<circle cx="525.0" cy="170.9" r="3.1" fill="#0a10f0"/>
<circle cx="528.5" cy="164.4" r="3.1" fill="#0a10f0"/>
<circle cx="532.1" cy="200.3" r="3.1" fill="#0a10f0"/>
<circle cx="535.7" cy="191.7" r="3.1" fill="#0a10f0"/>
<circle cx="539.3" cy="112.8" r="3.1" fill="#0a10f0"/>
<circle cx="542.9" cy="117.9" r="3.1" fill="#0a10f0"/>
<circle cx="550.1" cy="129.1" r="3.1" fill="#0a10f0"/>
<circle cx="553.7" cy="116.9" r="3.1" fill="#0a10f0"/>
<circle cx="557.2" cy="126.3" r="3.1" fill="#0a10f0"/>
<circle cx="560.8" cy="135.4" r="3.1" fill="#0a10f0"/>
<circle cx="564.4" cy="144.1" r="3.1" fill="#0a10f0"/>
<circle cx="568.0" cy="134.5" r="3.1" fill="#0a10f0"/>
<circle cx="571.6" cy="127.0" r="3.1" fill="#0a10f0"/>
<circle cx="575.2" cy="165.8" r="3.1" fill="#0a10f0"/>
<circle cx="578.8" cy="170.7" r="3.1" fill="#0a10f0"/>
<circle cx="582.4" cy="158.2" r="3.1" fill="#0a10f0"/>
<circle cx="585.9" cy="195.9" r="3.1" fill="#0a10f0"/>
<circle cx="607.5" cy="178.9" r="3.1" fill="#0a10f0"/>
<circle cx="611.1" cy="114.2" r="3.1" fill="#0a10f0"/>
<circle cx="614.6" cy="103.6" r="3.1" fill="#0a10f0"/>
<circle cx="618.2" cy="135.0" r="3.1" fill="#0a10f0"/>
<circle cx="629.0" cy="135.0" r="3.1" fill="#0a10f0"/>
<circle cx="636.2" cy="187.2" r="3.1" fill="#0a10f0"/>
<circle cx="639.7" cy="150.5" r="3.1" fill="#0a10f0"/>
<circle cx="643.3" cy="173.6" r="3.1" fill="#0a10f0"/>
<circle cx="646.9" cy="177.2" r="3.1" fill="#0a10f0"/>
<circle cx="650.5" cy="143.2" r="3.1" fill="#0a10f0"/>
<circle cx="83.8" cy="128.9" r="3.1" fill="#fb7d10"/>
<circle cx="87.3" cy="141.7" r="3.1" fill="#fb7d10"/>
<circle cx="90.9" cy="150.6" r="3.1" fill="#fb7d10"/>
<circle cx="94.5" cy="132.0" r="3.1" fill="#fb7d10"/>
<circle cx="98.1" cy="146.6" r="3.1" fill="#fb7d10"/>
<circle cx="101.7" cy="145.0" r="3.1" fill="#fb7d10"/>
<circle cx="105.3" cy="121.0" r="3.1" fill="#fb7d10"/>
<circle cx="108.9" cy="141.5" r="3.1" fill="#fb7d10"/>
<circle cx="112.5" cy="180.6" r="3.1" fill="#fb7d10"/>
<circle cx="116.0" cy="177.7" r="3.1" fill="#fb7d10"/>
<circle cx="119.6" cy="191.0" r="3.1" fill="#fb7d10"/>
<circle cx="123.2" cy="117.9" r="3.1" fill="#fb7d10"/>
<circle cx="126.8" cy="112.8" r="3.1" fill="#fb7d10"/>
<circle cx="130.4" cy="136.6" r="3.1" fill="#fb7d10"/>
<circle cx="134.0" cy="100.7" r="3.1" fill="#fb7d10"/>
<circle cx="137.6" cy="135.4" r="3.1" fill="#fb7d10"/>
<circle cx="141.2" cy="126.3" r="3.1" fill="#fb7d10"/>
<circle cx="148.3" cy="143.5" r="3.1" fill="#fb7d10"/>
<circle cx="155.5" cy="143.2" r="3.1" fill="#fb7d10"/>
<circle cx="162.7" cy="117.3" r="3.1" fill="#fb7d10"/>
<circle cx="166.3" cy="140.6" r="3.1" fill="#fb7d10"/>
<circle cx="169.8" cy="152.9" r="3.1" fill="#fb7d10"/>
<circle cx="177.0" cy="153.4" r="3.1" fill="#fb7d10"/>
<circle cx="180.6" cy="172.3" r="3.1" fill="#fb7d10"/>
<circle cx="184.2" cy="177.9" r="3.1" fill="#fb7d10"/>
<circle cx="187.8" cy="139.0" r="3.1" fill="#fb7d10"/>
<circle cx="191.4" cy="164.6" r="3.1" fill="#fb7d10"/>
<circle cx="198.5" cy="192.4" r="3.1" fill="#fb7d10"/>
<circle cx="216.5" cy="172.1" r="3.1" fill="#fb7d10"/>
<circle cx="223.7" cy="138.6" r="3.1" fill="#fb7d10"/>
<circle cx="227.2" cy="135.4" r="3.1" fill="#fb7d10"/>
<circle cx="230.8" cy="124.3" r="3.1" fill="#fb7d10"/>
<circle cx="234.4" cy="129.1" r="3.1" fill="#fb7d10"/>
<circle cx="238.0" cy="132.7" r="3.1" fill="#fb7d10"/>
<circle cx="241.6" cy="130.6" r="3.1" fill="#fb7d10"/>
<circle cx="248.8" cy="163.8" r="3.1" fill="#fb7d10"/>
<circle cx="252.4" cy="206.5" r="3.1" fill="#fb7d10"/>
<circle cx="255.9" cy="201.3" r="3.1" fill="#fb7d10"/>
<circle cx="263.1" cy="191.7" r="3.1" fill="#fb7d10"/>
<circle cx="270.3" cy="109.9" r="3.1" fill="#fb7d10"/>
<circle cx="273.9" cy="135.4" r="3.1" fill="#fb7d10"/>
<circle cx="284.6" cy="128.2" r="3.1" fill="#fb7d10"/>
<circle cx="288.2" cy="130.6" r="3.1" fill="#fb7d10"/>
<circle cx="299.0" cy="145.5" r="3.1" fill="#fb7d10"/>
<circle cx="309.7" cy="126.6" r="3.1" fill="#fb7d10"/>
<circle cx="313.3" cy="179.1" r="3.1" fill="#fb7d10"/>
<circle cx="316.9" cy="146.9" r="3.1" fill="#fb7d10"/>
<circle cx="320.5" cy="154.6" r="3.1" fill="#fb7d10"/>
<circle cx="324.1" cy="166.5" r="3.1" fill="#fb7d10"/>
<circle cx="331.3" cy="191.4" r="3.1" fill="#fb7d10"/>
<circle cx="334.9" cy="179.8" r="3.1" fill="#fb7d10"/>
<circle cx="338.4" cy="122.4" r="3.1" fill="#fb7d10"/>
<circle cx="342.0" cy="99.8" r="3.1" fill="#fb7d10"/>
<circle cx="349.2" cy="127.7" r="3.1" fill="#fb7d10"/>
<circle cx="352.8" cy="135.1" r="3.1" fill="#fb7d10"/>
<circle cx="356.4" cy="115.8" r="3.1" fill="#fb7d10"/>
<circle cx="360.0" cy="122.1" r="3.1" fill="#fb7d10"/>
<circle cx="363.5" cy="157.9" r="3.1" fill="#fb7d10"/>
<circle cx="381.5" cy="170.2" r="3.1" fill="#fb7d10"/>
<circle cx="385.1" cy="153.2" r="3.1" fill="#fb7d10"/>
<circle cx="392.2" cy="169.4" r="3.1" fill="#fb7d10"/>
<circle cx="395.8" cy="173.9" r="3.1" fill="#fb7d10"/>
<circle cx="399.4" cy="177.0" r="3.1" fill="#fb7d10"/>
<circle cx="403.0" cy="179.1" r="3.1" fill="#fb7d10"/>
<circle cx="406.6" cy="183.4" r="3.1" fill="#fb7d10"/>
<circle cx="417.4" cy="130.2" r="3.1" fill="#fb7d10"/>
<circle cx="420.9" cy="135.1" r="3.1" fill="#fb7d10"/>
<circle cx="424.5" cy="128.0" r="3.1" fill="#fb7d10"/>
<circle cx="428.1" cy="108.8" r="3.1" fill="#fb7d10"/>
<circle cx="431.7" cy="133.8" r="3.1" fill="#fb7d10"/>
<circle cx="435.3" cy="113.4" r="3.1" fill="#fb7d10"/>
<circle cx="438.9" cy="137.1" r="3.1" fill="#fb7d10"/>
<circle cx="442.5" cy="139.4" r="3.1" fill="#fb7d10"/>
<circle cx="449.6" cy="179.2" r="3.1" fill="#fb7d10"/>
<circle cx="453.2" cy="144.6" r="3.1" fill="#fb7d10"/>
<circle cx="456.8" cy="194.6" r="3.1" fill="#fb7d10"/>
<circle cx="460.4" cy="166.9" r="3.1" fill="#fb7d10"/>
<circle cx="467.6" cy="176.1" r="3.1" fill="#fb7d10"/>
<circle cx="471.2" cy="202.0" r="3.1" fill="#fb7d10"/>
<circle cx="474.7" cy="203.6" r="3.1" fill="#fb7d10"/>
<circle cx="478.3" cy="188.0" r="3.1" fill="#fb7d10"/>
<circle cx="481.9" cy="123.8" r="3.1" fill="#fb7d10"/>
<circle cx="485.5" cy="107.2" r="3.1" fill="#fb7d10"/>
<circle cx="489.1" cy="135.1" r="3.1" fill="#fb7d10"/>
<circle cx="492.7" cy="139.2" r="3.1" fill="#fb7d10"/>
<circle cx="496.3" cy="116.1" r="3.1" fill="#fb7d10"/>
<circle cx="499.9" cy="133.8" r="3.1" fill="#fb7d10"/>
<circle cx="514.2" cy="153.4" r="3.1" fill="#fb7d10"/>
<circle cx="517.8" cy="170.7" r="3.1" fill="#fb7d10"/>
<circle cx="521.4" cy="165.8" r="3.1" fill="#fb7d10"/>
<circle cx="525.0" cy="169.7" r="3.1" fill="#fb7d10"/>
<circle cx="528.5" cy="164.4" r="3.1" fill="#fb7d10"/>
<circle cx="532.1" cy="195.4" r="3.1" fill="#fb7d10"/>
<circle cx="535.7" cy="185.8" r="3.1" fill="#fb7d10"/>
<circle cx="539.3" cy="112.8" r="3.1" fill="#fb7d10"/>
<circle cx="542.9" cy="117.9" r="3.1" fill="#fb7d10"/>
<circle cx="550.1" cy="123.8" r="3.1" fill="#fb7d10"/>
<circle cx="553.7" cy="119.8" r="3.1" fill="#fb7d10"/>
<circle cx="557.2" cy="128.2" r="3.1" fill="#fb7d10"/>
<circle cx="560.8" cy="135.4" r="3.1" fill="#fb7d10"/>
<circle cx="564.4" cy="154.6" r="3.1" fill="#fb7d10"/>
<circle cx="568.0" cy="145.5" r="3.1" fill="#fb7d10"/>
<circle cx="571.6" cy="136.1" r="3.1" fill="#fb7d10"/>
<circle cx="575.2" cy="165.8" r="3.1" fill="#fb7d10"/>
<circle cx="578.8" cy="166.5" r="3.1" fill="#fb7d10"/>
<circle cx="582.4" cy="160.6" r="3.1" fill="#fb7d10"/>
<circle cx="585.9" cy="181.0" r="3.1" fill="#fb7d10"/>
<circle cx="607.5" cy="179.8" r="3.1" fill="#fb7d10"/>
<circle cx="611.1" cy="121.7" r="3.1" fill="#fb7d10"/>
<circle cx="614.6" cy="102.5" r="3.1" fill="#fb7d10"/>
<circle cx="618.2" cy="135.0" r="3.1" fill="#fb7d10"/>
<circle cx="629.0" cy="135.0" r="3.1" fill="#fb7d10"/>
<circle cx="636.2" cy="183.7" r="3.1" fill="#fb7d10"/>
<circle cx="639.7" cy="148.8" r="3.1" fill="#fb7d10"/>
<circle cx="643.3" cy="172.5" r="3.1" fill="#fb7d10"/>
<circle cx="646.9" cy="177.2" r="3.1" fill="#fb7d10"/>
<circle cx="650.5" cy="143.2" r="3.1" fill="#fb7d10"/>
<polyline points="84.8,488.1 88.3,485.0 95.5,488.6 99.1,480.5 102.7,479.1 106.3,497.5 109.9,486.3 113.5,476.0 117.0,467.9 120.6,454.4 124.2,491.7 127.8,490.4 131.4,499.3 135.0,493.9 138.6,484.5" fill="none" stroke="#4a4a44" stroke-width="1.1"/>
<polyline points="160.1,521.3 163.7,495.3" fill="none" stroke="#4a4a44" stroke-width="1.1"/>
<polyline points="178.0,485.4 181.6,478.2 185.2,468.4 188.8,484.1 192.4,479.1 196.0,476.0 224.7,495.3 228.2,489.0 231.8,507.0 239.0,465.2 246.2,466.1 249.8,477.3" fill="none" stroke="#4a4a44" stroke-width="1.1"/>
<polyline points="271.3,489.9 282.0,497.5 307.2,465.7 310.7,489.5 314.3,489.9 317.9,480.9 321.5,485.9 328.7,445.0 332.3,427.5 335.9,452.6 353.8,517.7" fill="none" stroke="#4a4a44" stroke-width="1.1"/>
<polyline points="386.1,480.5 389.7,480.5 393.2,477.3 396.8,471.9 404.0,467.0 407.6,476.4 411.2,489.5 414.8,489.5 418.4,481.8 421.9,475.1 429.1,487.7 432.7,480.5 436.3,535.3 439.9,490.8 443.5,498.4 450.6,485.4 454.2,490.4 457.8,476.4 461.4,486.3 465.0,478.2 468.6,499.3 472.2,441.0 475.7,441.9 482.9,490.8 486.5,492.6 490.1,486.3 493.7,487.7" fill="none" stroke="#4a4a44" stroke-width="1.1"/>
<polyline points="515.2,471.1 522.4,477.3 526.0,473.3 529.5,481.8 533.1,455.3 536.7,465.2 540.3,492.6 543.9,489.9 547.5,487.7 551.1,498.9 554.7,496.2 561.8,486.3 565.4,492.2 572.6,486.3 576.2,513.3 583.4,479.6" fill="none" stroke="#4a4a44" stroke-width="1.1"/>
<polyline points="608.5,454.0 612.1,527.2 619.2,486.3" fill="none" stroke="#4a4a44" stroke-width="1.1"/>
<polyline points="633.6,486.8 640.7,485.9 644.3,481.8 647.9,476.9" fill="none" stroke="#4a4a44" stroke-width="1.1"/>
<polyline points="84.8,489.0 88.3,486.3 95.5,488.6 99.1,481.4 102.7,480.5 106.3,498.9 109.9,486.3 113.5,477.3 117.0,467.9 120.6,455.3 124.2,493.5 127.8,491.3 131.4,499.3 135.0,493.9 138.6,498.4" fill="none" stroke="#f5a040" stroke-width="1.3" stroke-dasharray="2.4 1.6"/>
<polyline points="160.1,521.3 163.7,497.1" fill="none" stroke="#f5a040" stroke-width="1.3" stroke-dasharray="2.4 1.6"/>
<polyline points="178.0,487.2 181.6,478.2 185.2,468.4 188.8,486.3 192.4,480.9 196.0,476.0 224.7,495.3 228.2,489.0 231.8,507.0 239.0,465.2 246.2,465.2 249.8,480.9" fill="none" stroke="#f5a040" stroke-width="1.3" stroke-dasharray="2.4 1.6"/>
<polyline points="271.3,489.9 282.0,497.5 307.2,465.7 310.7,491.7 314.3,482.7 317.9,480.9 321.5,485.9 328.7,445.0 332.3,428.4 335.9,454.0 353.8,516.8" fill="none" stroke="#f5a040" stroke-width="1.3" stroke-dasharray="2.4 1.6"/>
<polyline points="386.1,480.5 389.7,480.5 393.2,477.3 396.8,471.9 404.0,468.4 407.6,476.4 411.2,489.5 414.8,489.5 418.4,481.8 421.9,475.1 429.1,487.7 432.7,480.5 436.3,533.9 439.9,489.9 443.5,500.7 450.6,485.4 454.2,490.8 457.8,476.4 461.4,487.7 465.0,478.2 468.6,498.4 472.2,440.1 475.7,465.2 482.9,489.9 486.5,492.6 490.1,486.3 493.7,491.7" fill="none" stroke="#f5a040" stroke-width="1.3" stroke-dasharray="2.4 1.6"/>
<polyline points="515.2,471.5 522.4,476.4 526.0,474.2 529.5,481.8 533.1,455.3 536.7,465.2 540.3,493.5 543.9,489.9 547.5,487.7 551.1,498.9 554.7,496.2 561.8,489.5 565.4,489.0 572.6,482.7 576.2,473.7 583.4,479.6" fill="none" stroke="#f5a040" stroke-width="1.3" stroke-dasharray="2.4 1.6"/>
<polyline points="608.5,457.6 612.1,525.4 619.2,489.5" fill="none" stroke="#f5a040" stroke-width="1.3" stroke-dasharray="2.4 1.6"/>
<polyline points="633.6,486.8 640.7,485.9 644.3,482.3 647.9,476.9" fill="none" stroke="#f5a040" stroke-width="1.3" stroke-dasharray="2.4 1.6"/>
<circle cx="84.8" cy="488.1" r="3.1" fill="#0a10f0"/>
<circle cx="88.3" cy="485.0" r="3.1" fill="#0a10f0"/>
<circle cx="95.5" cy="488.6" r="3.1" fill="#0a10f0"/>
<circle cx="99.1" cy="480.5" r="3.1" fill="#0a10f0"/>
<circle cx="102.7" cy="479.1" r="3.1" fill="#0a10f0"/>
<circle cx="106.3" cy="497.5" r="3.1" fill="#0a10f0"/>
<circle cx="109.9" cy="486.3" r="3.1" fill="#0a10f0"/>
<circle cx="113.5" cy="476.0" r="3.1" fill="#0a10f0"/>
<circle cx="117.0" cy="467.9" r="3.1" fill="#0a10f0"/>
<circle cx="120.6" cy="454.4" r="3.1" fill="#0a10f0"/>
<circle cx="124.2" cy="491.7" r="3.1" fill="#0a10f0"/>
<circle cx="127.8" cy="490.4" r="3.1" fill="#0a10f0"/>
<circle cx="131.4" cy="499.3" r="3.1" fill="#0a10f0"/>
<circle cx="135.0" cy="493.9" r="3.1" fill="#0a10f0"/>
<circle cx="138.6" cy="484.5" r="3.1" fill="#0a10f0"/>
<circle cx="160.1" cy="521.3" r="3.1" fill="#0a10f0"/>
<circle cx="163.7" cy="495.3" r="3.1" fill="#0a10f0"/>
<circle cx="178.0" cy="485.4" r="3.1" fill="#0a10f0"/>
<circle cx="181.6" cy="478.2" r="3.1" fill="#0a10f0"/>
<circle cx="185.2" cy="468.4" r="3.1" fill="#0a10f0"/>
<circle cx="188.8" cy="484.1" r="3.1" fill="#0a10f0"/>
<circle cx="192.4" cy="479.1" r="3.1" fill="#0a10f0"/>
<circle cx="196.0" cy="476.0" r="3.1" fill="#0a10f0"/>
<circle cx="224.7" cy="495.3" r="3.1" fill="#0a10f0"/>
<circle cx="228.2" cy="489.0" r="3.1" fill="#0a10f0"/>
<circle cx="231.8" cy="507.0" r="3.1" fill="#0a10f0"/>
<circle cx="239.0" cy="465.2" r="3.1" fill="#0a10f0"/>
<circle cx="246.2" cy="466.1" r="3.1" fill="#0a10f0"/>
<circle cx="249.8" cy="477.3" r="3.1" fill="#0a10f0"/>
<circle cx="271.3" cy="489.9" r="3.1" fill="#0a10f0"/>
<circle cx="282.0" cy="497.5" r="3.1" fill="#0a10f0"/>
<circle cx="307.2" cy="465.7" r="3.1" fill="#0a10f0"/>
<circle cx="310.7" cy="489.5" r="3.1" fill="#0a10f0"/>
<circle cx="314.3" cy="489.9" r="3.1" fill="#0a10f0"/>
<circle cx="317.9" cy="480.9" r="3.1" fill="#0a10f0"/>
<circle cx="321.5" cy="485.9" r="3.1" fill="#0a10f0"/>
<circle cx="328.7" cy="445.0" r="3.1" fill="#0a10f0"/>
<circle cx="332.3" cy="427.5" r="3.1" fill="#0a10f0"/>
<circle cx="335.9" cy="452.6" r="3.1" fill="#0a10f0"/>
<circle cx="353.8" cy="517.7" r="3.1" fill="#0a10f0"/>
<circle cx="386.1" cy="480.5" r="3.1" fill="#0a10f0"/>
<circle cx="389.7" cy="480.5" r="3.1" fill="#0a10f0"/>
<circle cx="393.2" cy="477.3" r="3.1" fill="#0a10f0"/>
<circle cx="396.8" cy="471.9" r="3.1" fill="#0a10f0"/>
<circle cx="404.0" cy="467.0" r="3.1" fill="#0a10f0"/>
<circle cx="407.6" cy="476.4" r="3.1" fill="#0a10f0"/>
<circle cx="411.2" cy="489.5" r="3.1" fill="#0a10f0"/>
<circle cx="414.8" cy="489.5" r="3.1" fill="#0a10f0"/>
<circle cx="418.4" cy="481.8" r="3.1" fill="#0a10f0"/>
<circle cx="421.9" cy="475.1" r="3.1" fill="#0a10f0"/>
<circle cx="429.1" cy="487.7" r="3.1" fill="#0a10f0"/>
<circle cx="432.7" cy="480.5" r="3.1" fill="#0a10f0"/>
<circle cx="436.3" cy="535.3" r="3.1" fill="#0a10f0"/>
<circle cx="439.9" cy="490.8" r="3.1" fill="#0a10f0"/>
<circle cx="443.5" cy="498.4" r="3.1" fill="#0a10f0"/>
<circle cx="450.6" cy="485.4" r="3.1" fill="#0a10f0"/>
<circle cx="454.2" cy="490.4" r="3.1" fill="#0a10f0"/>
<circle cx="457.8" cy="476.4" r="3.1" fill="#0a10f0"/>
<circle cx="461.4" cy="486.3" r="3.1" fill="#0a10f0"/>
<circle cx="465.0" cy="478.2" r="3.1" fill="#0a10f0"/>
<circle cx="468.6" cy="499.3" r="3.1" fill="#0a10f0"/>
<circle cx="472.2" cy="441.0" r="3.1" fill="#0a10f0"/>
<circle cx="475.7" cy="441.9" r="3.1" fill="#0a10f0"/>
<circle cx="482.9" cy="490.8" r="3.1" fill="#0a10f0"/>
<circle cx="486.5" cy="492.6" r="3.1" fill="#0a10f0"/>
<circle cx="490.1" cy="486.3" r="3.1" fill="#0a10f0"/>
<circle cx="493.7" cy="487.7" r="3.1" fill="#0a10f0"/>
<circle cx="515.2" cy="471.1" r="3.1" fill="#0a10f0"/>
<circle cx="522.4" cy="477.3" r="3.1" fill="#0a10f0"/>
<circle cx="526.0" cy="473.3" r="3.1" fill="#0a10f0"/>
<circle cx="529.5" cy="481.8" r="3.1" fill="#0a10f0"/>
<circle cx="533.1" cy="455.3" r="3.1" fill="#0a10f0"/>
<circle cx="536.7" cy="465.2" r="3.1" fill="#0a10f0"/>
<circle cx="540.3" cy="492.6" r="3.1" fill="#0a10f0"/>
<circle cx="543.9" cy="489.9" r="3.1" fill="#0a10f0"/>
<circle cx="547.5" cy="487.7" r="3.1" fill="#0a10f0"/>
<circle cx="551.1" cy="498.9" r="3.1" fill="#0a10f0"/>
<circle cx="554.7" cy="496.2" r="3.1" fill="#0a10f0"/>
<circle cx="561.8" cy="486.3" r="3.1" fill="#0a10f0"/>
<circle cx="565.4" cy="492.2" r="3.1" fill="#0a10f0"/>
<circle cx="572.6" cy="486.3" r="3.1" fill="#0a10f0"/>
<circle cx="576.2" cy="513.3" r="3.1" fill="#0a10f0"/>
<circle cx="583.4" cy="479.6" r="3.1" fill="#0a10f0"/>
<circle cx="608.5" cy="454.0" r="3.1" fill="#0a10f0"/>
<circle cx="612.1" cy="527.2" r="3.1" fill="#0a10f0"/>
<circle cx="619.2" cy="486.3" r="3.1" fill="#0a10f0"/>
<circle cx="633.6" cy="486.8" r="3.1" fill="#0a10f0"/>
<circle cx="640.7" cy="485.9" r="3.1" fill="#0a10f0"/>
<circle cx="644.3" cy="481.8" r="3.1" fill="#0a10f0"/>
<circle cx="647.9" cy="476.9" r="3.1" fill="#0a10f0"/>
<circle cx="84.8" cy="489.0" r="3.1" fill="#fb7d10"/>
<circle cx="88.3" cy="486.3" r="3.1" fill="#fb7d10"/>
<circle cx="95.5" cy="488.6" r="3.1" fill="#fb7d10"/>
<circle cx="99.1" cy="481.4" r="3.1" fill="#fb7d10"/>
<circle cx="102.7" cy="480.5" r="3.1" fill="#fb7d10"/>
<circle cx="106.3" cy="498.9" r="3.1" fill="#fb7d10"/>
<circle cx="109.9" cy="486.3" r="3.1" fill="#fb7d10"/>
<circle cx="113.5" cy="477.3" r="3.1" fill="#fb7d10"/>
<circle cx="117.0" cy="467.9" r="3.1" fill="#fb7d10"/>
<circle cx="120.6" cy="455.3" r="3.1" fill="#fb7d10"/>
<circle cx="124.2" cy="493.5" r="3.1" fill="#fb7d10"/>
<circle cx="127.8" cy="491.3" r="3.1" fill="#fb7d10"/>
<circle cx="131.4" cy="499.3" r="3.1" fill="#fb7d10"/>
<circle cx="135.0" cy="493.9" r="3.1" fill="#fb7d10"/>
<circle cx="138.6" cy="498.4" r="3.1" fill="#fb7d10"/>
<circle cx="160.1" cy="521.3" r="3.1" fill="#fb7d10"/>
<circle cx="163.7" cy="497.1" r="3.1" fill="#fb7d10"/>
<circle cx="178.0" cy="487.2" r="3.1" fill="#fb7d10"/>
<circle cx="181.6" cy="478.2" r="3.1" fill="#fb7d10"/>
<circle cx="185.2" cy="468.4" r="3.1" fill="#fb7d10"/>
<circle cx="188.8" cy="486.3" r="3.1" fill="#fb7d10"/>
<circle cx="192.4" cy="480.9" r="3.1" fill="#fb7d10"/>
<circle cx="196.0" cy="476.0" r="3.1" fill="#fb7d10"/>
<circle cx="224.7" cy="495.3" r="3.1" fill="#fb7d10"/>
<circle cx="228.2" cy="489.0" r="3.1" fill="#fb7d10"/>
<circle cx="231.8" cy="507.0" r="3.1" fill="#fb7d10"/>
<circle cx="239.0" cy="465.2" r="3.1" fill="#fb7d10"/>
<circle cx="246.2" cy="465.2" r="3.1" fill="#fb7d10"/>
<circle cx="249.8" cy="480.9" r="3.1" fill="#fb7d10"/>
<circle cx="271.3" cy="489.9" r="3.1" fill="#fb7d10"/>
<circle cx="282.0" cy="497.5" r="3.1" fill="#fb7d10"/>
<circle cx="307.2" cy="465.7" r="3.1" fill="#fb7d10"/>
<circle cx="310.7" cy="491.7" r="3.1" fill="#fb7d10"/>
<circle cx="314.3" cy="482.7" r="3.1" fill="#fb7d10"/>
<circle cx="317.9" cy="480.9" r="3.1" fill="#fb7d10"/>
<circle cx="321.5" cy="485.9" r="3.1" fill="#fb7d10"/>
<circle cx="328.7" cy="445.0" r="3.1" fill="#fb7d10"/>
<circle cx="332.3" cy="428.4" r="3.1" fill="#fb7d10"/>
<circle cx="335.9" cy="454.0" r="3.1" fill="#fb7d10"/>
<circle cx="353.8" cy="516.8" r="3.1" fill="#fb7d10"/>
<circle cx="386.1" cy="480.5" r="3.1" fill="#fb7d10"/>
<circle cx="389.7" cy="480.5" r="3.1" fill="#fb7d10"/>
<circle cx="393.2" cy="477.3" r="3.1" fill="#fb7d10"/>
<circle cx="396.8" cy="471.9" r="3.1" fill="#fb7d10"/>
<circle cx="404.0" cy="468.4" r="3.1" fill="#fb7d10"/>
<circle cx="407.6" cy="476.4" r="3.1" fill="#fb7d10"/>
<circle cx="411.2" cy="489.5" r="3.1" fill="#fb7d10"/>
<circle cx="414.8" cy="489.5" r="3.1" fill="#fb7d10"/>
<circle cx="418.4" cy="481.8" r="3.1" fill="#fb7d10"/>
<circle cx="421.9" cy="475.1" r="3.1" fill="#fb7d10"/>
<circle cx="429.1" cy="487.7" r="3.1" fill="#fb7d10"/>
<circle cx="432.7" cy="480.5" r="3.1" fill="#fb7d10"/>
<circle cx="436.3" cy="533.9" r="3.1" fill="#fb7d10"/>
<circle cx="439.9" cy="489.9" r="3.1" fill="#fb7d10"/>
<circle cx="443.5" cy="500.7" r="3.1" fill="#fb7d10"/>
<circle cx="450.6" cy="485.4" r="3.1" fill="#fb7d10"/>
<circle cx="454.2" cy="490.8" r="3.1" fill="#fb7d10"/>
<circle cx="457.8" cy="476.4" r="3.1" fill="#fb7d10"/>
<circle cx="461.4" cy="487.7" r="3.1" fill="#fb7d10"/>
<circle cx="465.0" cy="478.2" r="3.1" fill="#fb7d10"/>
<circle cx="468.6" cy="498.4" r="3.1" fill="#fb7d10"/>
<circle cx="472.2" cy="440.1" r="3.1" fill="#fb7d10"/>
<circle cx="475.7" cy="465.2" r="3.1" fill="#fb7d10"/>
<circle cx="482.9" cy="489.9" r="3.1" fill="#fb7d10"/>
<circle cx="486.5" cy="492.6" r="3.1" fill="#fb7d10"/>
<circle cx="490.1" cy="486.3" r="3.1" fill="#fb7d10"/>
<circle cx="493.7" cy="491.7" r="3.1" fill="#fb7d10"/>
<circle cx="515.2" cy="471.5" r="3.1" fill="#fb7d10"/>
<circle cx="522.4" cy="476.4" r="3.1" fill="#fb7d10"/>
<circle cx="526.0" cy="474.2" r="3.1" fill="#fb7d10"/>
<circle cx="529.5" cy="481.8" r="3.1" fill="#fb7d10"/>
<circle cx="533.1" cy="455.3" r="3.1" fill="#fb7d10"/>
<circle cx="536.7" cy="465.2" r="3.1" fill="#fb7d10"/>
<circle cx="540.3" cy="493.5" r="3.1" fill="#fb7d10"/>
<circle cx="543.9" cy="489.9" r="3.1" fill="#fb7d10"/>
<circle cx="547.5" cy="487.7" r="3.1" fill="#fb7d10"/>
<circle cx="551.1" cy="498.9" r="3.1" fill="#fb7d10"/>
<circle cx="554.7" cy="496.2" r="3.1" fill="#fb7d10"/>
<circle cx="561.8" cy="489.5" r="3.1" fill="#fb7d10"/>
<circle cx="565.4" cy="489.0" r="3.1" fill="#fb7d10"/>
<circle cx="572.6" cy="482.7" r="3.1" fill="#fb7d10"/>
<circle cx="576.2" cy="473.7" r="3.1" fill="#fb7d10"/>
<circle cx="583.4" cy="479.6" r="3.1" fill="#fb7d10"/>
<circle cx="608.5" cy="457.6" r="3.1" fill="#fb7d10"/>
<circle cx="612.1" cy="525.4" r="3.1" fill="#fb7d10"/>
<circle cx="619.2" cy="489.5" r="3.1" fill="#fb7d10"/>
<circle cx="633.6" cy="486.8" r="3.1" fill="#fb7d10"/>
<circle cx="640.7" cy="485.9" r="3.1" fill="#fb7d10"/>
<circle cx="644.3" cy="482.3" r="3.1" fill="#fb7d10"/>
<circle cx="647.9" cy="476.9" r="3.1" fill="#fb7d10"/>
<circle cx="84.0" cy="805.3" r="4.4" fill="#0a10f0"/>
<circle cx="87.6" cy="821.3" r="4.4" fill="#0a10f0"/>
<circle cx="98.3" cy="803.8" r="4.4" fill="#0a10f0"/>
<circle cx="105.5" cy="812.1" r="4.4" fill="#0a10f0"/>
<circle cx="116.3" cy="741.5" r="4.4" fill="#0a10f0"/>
<circle cx="119.9" cy="842.0" r="4.4" fill="#0a10f0"/>
<circle cx="123.5" cy="781.1" r="4.4" fill="#0a10f0"/>
<circle cx="130.7" cy="793.7" r="4.4" fill="#0a10f0"/>
<circle cx="137.9" cy="780.3" r="4.4" fill="#0a10f0"/>
<circle cx="166.6" cy="704.8" r="4.4" fill="#0a10f0"/>
<circle cx="177.4" cy="730.9" r="4.4" fill="#0a10f0"/>
<circle cx="181.0" cy="835.2" r="4.4" fill="#0a10f0"/>
<circle cx="184.6" cy="772.3" r="4.4" fill="#0a10f0"/>
<circle cx="224.1" cy="786.0" r="4.4" fill="#0a10f0"/>
<circle cx="227.7" cy="758.0" r="4.4" fill="#0a10f0"/>
<circle cx="231.3" cy="751.8" r="4.4" fill="#0a10f0"/>
<circle cx="234.9" cy="778.5" r="4.4" fill="#0a10f0"/>
<circle cx="238.5" cy="782.1" r="4.4" fill="#0a10f0"/>
<circle cx="249.2" cy="742.4" r="4.4" fill="#0a10f0"/>
<circle cx="263.6" cy="803.7" r="4.4" fill="#0a10f0"/>
<circle cx="270.8" cy="754.0" r="4.4" fill="#0a10f0"/>
<circle cx="274.4" cy="781.1" r="4.4" fill="#0a10f0"/>
<circle cx="299.5" cy="747.3" r="4.4" fill="#0a10f0"/>
<circle cx="321.1" cy="737.5" r="4.4" fill="#0a10f0"/>
<circle cx="324.7" cy="758.9" r="4.4" fill="#0a10f0"/>
<circle cx="331.9" cy="787.8" r="4.4" fill="#0a10f0"/>
<circle cx="339.0" cy="753.5" r="4.4" fill="#0a10f0"/>
<circle cx="357.0" cy="696.5" r="4.4" fill="#0a10f0"/>
<circle cx="364.2" cy="759.8" r="4.4" fill="#0a10f0"/>
<circle cx="367.8" cy="751.8" r="4.4" fill="#0a10f0"/>
<circle cx="385.7" cy="789.1" r="4.4" fill="#0a10f0"/>
<circle cx="389.3" cy="785.6" r="4.4" fill="#0a10f0"/>
<circle cx="392.9" cy="764.2" r="4.4" fill="#0a10f0"/>
<circle cx="396.5" cy="779.0" r="4.4" fill="#0a10f0"/>
<circle cx="400.1" cy="779.3" r="4.4" fill="#0a10f0"/>
<circle cx="407.3" cy="826.1" r="4.4" fill="#0a10f0"/>
<circle cx="421.7" cy="797.3" r="4.4" fill="#0a10f0"/>
<circle cx="425.3" cy="823.3" r="4.4" fill="#0a10f0"/>
<circle cx="432.4" cy="764.8" r="4.4" fill="#0a10f0"/>
<circle cx="436.0" cy="802.7" r="4.4" fill="#0a10f0"/>
<circle cx="439.6" cy="760.3" r="4.4" fill="#0a10f0"/>
<circle cx="446.8" cy="759.8" r="4.4" fill="#0a10f0"/>
<circle cx="450.4" cy="786.0" r="4.4" fill="#0a10f0"/>
<circle cx="457.6" cy="689.7" r="4.4" fill="#0a10f0"/>
<circle cx="489.9" cy="800.2" r="4.4" fill="#0a10f0"/>
<circle cx="493.5" cy="806.6" r="4.4" fill="#0a10f0"/>
<circle cx="518.7" cy="748.3" r="4.4" fill="#0a10f0"/>
<circle cx="525.9" cy="751.8" r="4.4" fill="#0a10f0"/>
<circle cx="533.0" cy="833.4" r="4.4" fill="#0a10f0"/>
<circle cx="536.6" cy="801.7" r="4.4" fill="#0a10f0"/>
<circle cx="543.8" cy="794.4" r="4.4" fill="#0a10f0"/>
<circle cx="547.4" cy="752.5" r="4.4" fill="#0a10f0"/>
<circle cx="565.4" cy="766.3" r="4.4" fill="#0a10f0"/>
<circle cx="576.1" cy="760.9" r="4.4" fill="#0a10f0"/>
<circle cx="579.7" cy="789.2" r="4.4" fill="#0a10f0"/>
<circle cx="612.1" cy="783.6" r="4.4" fill="#0a10f0"/>
<circle cx="630.0" cy="681.6" r="4.4" fill="#0a10f0"/>
<circle cx="644.4" cy="768.4" r="4.4" fill="#0a10f0"/>
<circle cx="651.6" cy="809.2" r="4.4" fill="#0a10f0"/>
<circle cx="84.0" cy="821.7" r="4.4" fill="#fb7d10"/>
<circle cx="87.6" cy="819.9" r="4.4" fill="#fb7d10"/>
<circle cx="98.3" cy="789.2" r="4.4" fill="#fb7d10"/>
<circle cx="105.5" cy="813.6" r="4.4" fill="#fb7d10"/>
<circle cx="116.3" cy="739.5" r="4.4" fill="#fb7d10"/>
<circle cx="119.9" cy="844.9" r="4.4" fill="#fb7d10"/>
<circle cx="123.5" cy="778.8" r="4.4" fill="#fb7d10"/>
<circle cx="130.7" cy="796.2" r="4.4" fill="#fb7d10"/>
<circle cx="137.9" cy="782.1" r="4.4" fill="#fb7d10"/>
<circle cx="166.6" cy="702.2" r="4.4" fill="#fb7d10"/>
<circle cx="177.4" cy="733.2" r="4.4" fill="#fb7d10"/>
<circle cx="181.0" cy="837.5" r="4.4" fill="#fb7d10"/>
<circle cx="184.6" cy="769.4" r="4.4" fill="#fb7d10"/>
<circle cx="224.1" cy="781.4" r="4.4" fill="#fb7d10"/>
<circle cx="227.7" cy="756.0" r="4.4" fill="#fb7d10"/>
<circle cx="231.3" cy="751.8" r="4.4" fill="#fb7d10"/>
<circle cx="234.9" cy="778.2" r="4.4" fill="#fb7d10"/>
<circle cx="238.5" cy="779.3" r="4.4" fill="#fb7d10"/>
<circle cx="249.2" cy="742.1" r="4.4" fill="#fb7d10"/>
<circle cx="263.6" cy="800.8" r="4.4" fill="#fb7d10"/>
<circle cx="270.8" cy="754.5" r="4.4" fill="#fb7d10"/>
<circle cx="274.4" cy="779.3" r="4.4" fill="#fb7d10"/>
<circle cx="299.5" cy="745.0" r="4.4" fill="#fb7d10"/>
<circle cx="321.1" cy="735.6" r="4.4" fill="#fb7d10"/>
<circle cx="324.7" cy="756.9" r="4.4" fill="#fb7d10"/>
<circle cx="331.9" cy="772.9" r="4.4" fill="#fb7d10"/>
<circle cx="339.0" cy="755.4" r="4.4" fill="#fb7d10"/>
<circle cx="357.0" cy="695.0" r="4.4" fill="#fb7d10"/>
<circle cx="364.2" cy="757.9" r="4.4" fill="#fb7d10"/>
<circle cx="367.8" cy="750.5" r="4.4" fill="#fb7d10"/>
<circle cx="385.7" cy="801.1" r="4.4" fill="#fb7d10"/>
<circle cx="389.3" cy="772.5" r="4.4" fill="#fb7d10"/>
<circle cx="392.9" cy="772.3" r="4.4" fill="#fb7d10"/>
<circle cx="396.5" cy="787.2" r="4.4" fill="#fb7d10"/>
<circle cx="400.1" cy="771.9" r="4.4" fill="#fb7d10"/>
<circle cx="407.3" cy="834.6" r="4.4" fill="#fb7d10"/>
<circle cx="421.7" cy="794.4" r="4.4" fill="#fb7d10"/>
<circle cx="425.3" cy="829.5" r="4.4" fill="#fb7d10"/>
<circle cx="432.4" cy="769.0" r="4.4" fill="#fb7d10"/>
<circle cx="436.0" cy="793.9" r="4.4" fill="#fb7d10"/>
<circle cx="439.6" cy="762.4" r="4.4" fill="#fb7d10"/>
<circle cx="446.8" cy="761.9" r="4.4" fill="#fb7d10"/>
<circle cx="450.4" cy="772.8" r="4.4" fill="#fb7d10"/>
<circle cx="457.6" cy="687.9" r="4.4" fill="#fb7d10"/>
<circle cx="489.9" cy="799.3" r="4.4" fill="#fb7d10"/>
<circle cx="493.5" cy="802.4" r="4.4" fill="#fb7d10"/>
<circle cx="518.7" cy="767.7" r="4.4" fill="#fb7d10"/>
<circle cx="525.9" cy="728.0" r="4.4" fill="#fb7d10"/>
<circle cx="533.0" cy="852.2" r="4.4" fill="#fb7d10"/>
<circle cx="536.6" cy="804.3" r="4.4" fill="#fb7d10"/>
<circle cx="543.8" cy="793.0" r="4.4" fill="#fb7d10"/>
<circle cx="547.4" cy="748.3" r="4.4" fill="#fb7d10"/>
<circle cx="565.4" cy="765.4" r="4.4" fill="#fb7d10"/>
<circle cx="576.1" cy="796.0" r="4.4" fill="#fb7d10"/>
<circle cx="579.7" cy="810.8" r="4.4" fill="#fb7d10"/>
<circle cx="612.1" cy="783.6" r="4.4" fill="#fb7d10"/>
<circle cx="630.0" cy="691.0" r="4.4" fill="#fb7d10"/>
<circle cx="644.4" cy="739.4" r="4.4" fill="#fb7d10"/>
<circle cx="651.6" cy="795.6" r="4.4" fill="#fb7d10"/>
<text x="77.2" y="74.7" font-size="16" font-weight="bold" fill="#0c0cd4">WT</text>
<text x="77.2" y="94.2" font-size="16" font-weight="bold" fill="#ee8e1c">D145E</text>
<text x="77.8" y="382.0" font-size="16" font-weight="bold" fill="#0c0cd4">WT</text>
<text x="77.8" y="401.6" font-size="16" font-weight="bold" fill="#ee8e1c">D145E</text>
<text x="76.4" y="667.8" font-size="16" font-weight="bold" fill="#0c0cd4">WT</text>
<text x="76.4" y="686.8" font-size="16" font-weight="bold" fill="#ee8e1c">D145E</text>
<text x="368.5" y="326.3" text-anchor="middle" font-size="16.5" font-weight="bold" letter-spacing="0.9">Residue</text>
<text x="370.2" y="634.4" text-anchor="middle" font-size="16.5" font-weight="bold" letter-spacing="0.9">Residue</text>
<text x="367.6" y="929.1" text-anchor="middle" font-size="16.5" font-weight="bold" letter-spacing="0.3">Residue</text>
<g transform="translate(18.0,284.5) rotate(-90)" font-weight="bold"><text x="0.50" y="0" font-size="15.5" textLength="9.6" lengthAdjust="spacingAndGlyphs">Δ</text><text x="10.00" y="0" font-size="13.5">δ</text><text x="19.00" y="0" font-size="16.5">C</text><text x="31.70" y="-8.7" font-size="11" font-family='"Liberation Serif", serif' font-style="italic">α</text><text x="42.50" y="0" font-size="16.5">(</text><text x="48.90" y="0" font-size="13.5">δ</text><text x="57.00" y="0" font-size="16.5">C</text><text x="69.60" y="-8.7" font-size="11" font-family='"Liberation Serif", serif' font-style="italic">α</text><text x="75.50" y="7.0" font-size="10.2">obs.</text><text x="102.90" y="0" font-size="16.5">-</text><text x="113.60" y="0" font-size="13.5">δ</text><text x="122.50" y="0" font-size="16.5">C</text><text x="134.50" y="-8.7" font-size="11" font-family='"Liberation Serif", serif' font-style="italic">α</text><text x="140.70" y="7.0" font-size="10.2">random</text><text x="180.70" y="0" font-size="16.5">)</text><text x="189.80" y="0" font-size="16.5">/</text><text x="201.40" y="0" font-size="17">ppm</text></g>
<g transform="translate(18.0,588.8) rotate(-90)" font-weight="bold"><text x="0.00" y="0" font-size="15.5" textLength="9.6" lengthAdjust="spacingAndGlyphs">Δ</text><text x="11.00" y="0" font-size="13.5">δ</text><text x="19.50" y="0" font-size="16.5">H</text><text x="32.20" y="-8.7" font-size="11" font-family='"Liberation Serif", serif' font-style="italic">α</text><text x="43.30" y="0" font-size="16.5">(</text><text x="48.60" y="0" font-size="13.5">δ</text><text x="58.30" y="0" font-size="16.5">H</text><text x="70.60" y="-8.7" font-size="11" font-family='"Liberation Serif", serif' font-style="italic">α</text><text x="76.30" y="7.0" font-size="10.2">obs.</text><text x="102.90" y="0" font-size="16.5">-</text><text x="113.90" y="0" font-size="13.5">δ</text><text x="122.50" y="0" font-size="16.5">H</text><text x="135.10" y="-8.7" font-size="11" font-family='"Liberation Serif", serif' font-style="italic">α</text><text x="141.60" y="7.0" font-size="10.2">random</text><text x="180.90" y="0" font-size="16.5">)</text><text x="190.80" y="0" font-size="16.5">/</text><text x="201.80" y="0" font-size="17">ppm</text></g>
<text transform="translate(18.8,875.0) rotate(-90)" font-weight="bold" font-size="17.5" textLength="223.5" lengthAdjust="spacing">Temp. Coefficient (ppb/°C)</text>
<line x1="83.4" y1="736.0" x2="83.4" y2="786.8" stroke="#000" stroke-width="1.8"/>
<path d="M80.7,784.5999999999999 L86.10000000000001,784.5999999999999 L83.4,790.8 Z" fill="#000"/>
<line x1="97.7" y1="716.0" x2="97.7" y2="767.5" stroke="#000" stroke-width="1.8"/>
<path d="M95.0,765.3 L100.4,765.3 L97.7,771.5 Z" fill="#000"/>
<line x1="332.5" y1="709.2" x2="332.5" y2="760.6" stroke="#000" stroke-width="1.8"/>
<path d="M329.8,758.4 L335.2,758.4 L332.5,764.6 Z" fill="#000"/>
<line x1="515.2" y1="711.8" x2="515.2" y2="731.2" stroke="#000" stroke-width="1.8"/>
<path d="M512.5,729.0 L517.9000000000001,729.0 L515.2,735.2 Z" fill="#000"/>
<line x1="526.5" y1="692.9" x2="526.5" y2="713.4" stroke="#000" stroke-width="1.8"/>
<path d="M523.8,711.1999999999999 L529.2,711.1999999999999 L526.5,717.4 Z" fill="#000"/>
<line x1="575.6" y1="723.9" x2="575.6" y2="745.6" stroke="#000" stroke-width="1.8"/>
<path d="M572.9,743.4 L578.3000000000001,743.4 L575.6,749.6 Z" fill="#000"/>
<line x1="644.0" y1="711.0" x2="644.0" y2="728.6" stroke="#000" stroke-width="1.8"/>
<path d="M641.3,726.4 L646.7,726.4 L644.0,732.6 Z" fill="#000"/>
<line x1="449.6" y1="828.0" x2="449.6" y2="802.5" stroke="#000" stroke-width="1.8"/>
<path d="M446.90000000000003,804.7 L452.3,804.7 L449.6,798.5 Z" fill="#000"/>
<line x1="579.8" y1="840.2" x2="579.8" y2="823.4" stroke="#000" stroke-width="1.8"/>
<path d="M577.0999999999999,825.6 L582.5,825.6 L579.8,819.4 Z" fill="#000"/>
<line x1="651.2" y1="840.2" x2="651.2" y2="823.4" stroke="#000" stroke-width="1.8"/>
<path d="M648.5,825.6 L653.9000000000001,825.6 L651.2,819.4 Z" fill="#000"/>
<text transform="translate(80.0,729.9) rotate(-45)" font-size="14" font-weight="bold">D3</text>
<text transform="translate(97.2,711.3) rotate(-45)" font-size="14" font-weight="bold">A7</text>
<text transform="translate(330.7,705.4) rotate(-45)" font-size="14" font-weight="bold">V72</text>
<text transform="translate(385.1,717.0) rotate(-45)" font-size="14" font-weight="bold">D87 / D88</text>
<text transform="translate(397.1,728.8) rotate(-45)" font-size="14" font-weight="bold">S89 / K90</text>
<text transform="translate(499.3,720.0) rotate(-45)" font-size="14" font-weight="bold">T124</text>
<text transform="translate(525.4,690.6) rotate(-45)" font-size="14" font-weight="bold">E126</text>
<text transform="translate(575.7,719.0) rotate(-45)" font-size="14" font-weight="bold">G140</text>
<text transform="translate(640.2,708.3) rotate(-45)" font-size="14" font-weight="bold">G159</text>
<text transform="translate(433.0,858.5) rotate(-45)" font-size="14" font-weight="bold">D105</text>
<text transform="translate(539.9,871.8) rotate(-45)" font-size="14" font-weight="bold">I128</text>
<text transform="translate(567.1,871.2) rotate(-45)" font-size="14" font-weight="bold">D141</text>
<text transform="translate(638.5,869.7) rotate(-45)" font-size="14" font-weight="bold">E161</text>
<path d="M380,753.8 L380,747 Q380,744.8 382.5,744.8 L392,744.8 Q394,744.8 394,742.5 L394,735.2 M394,742.5 Q394,744.8 396,744.8 L405.5,744.8 Q408,744.8 408,747 L408,753.8" fill="none" stroke="#000" stroke-width="1.8"/>
</svg></body></html>
